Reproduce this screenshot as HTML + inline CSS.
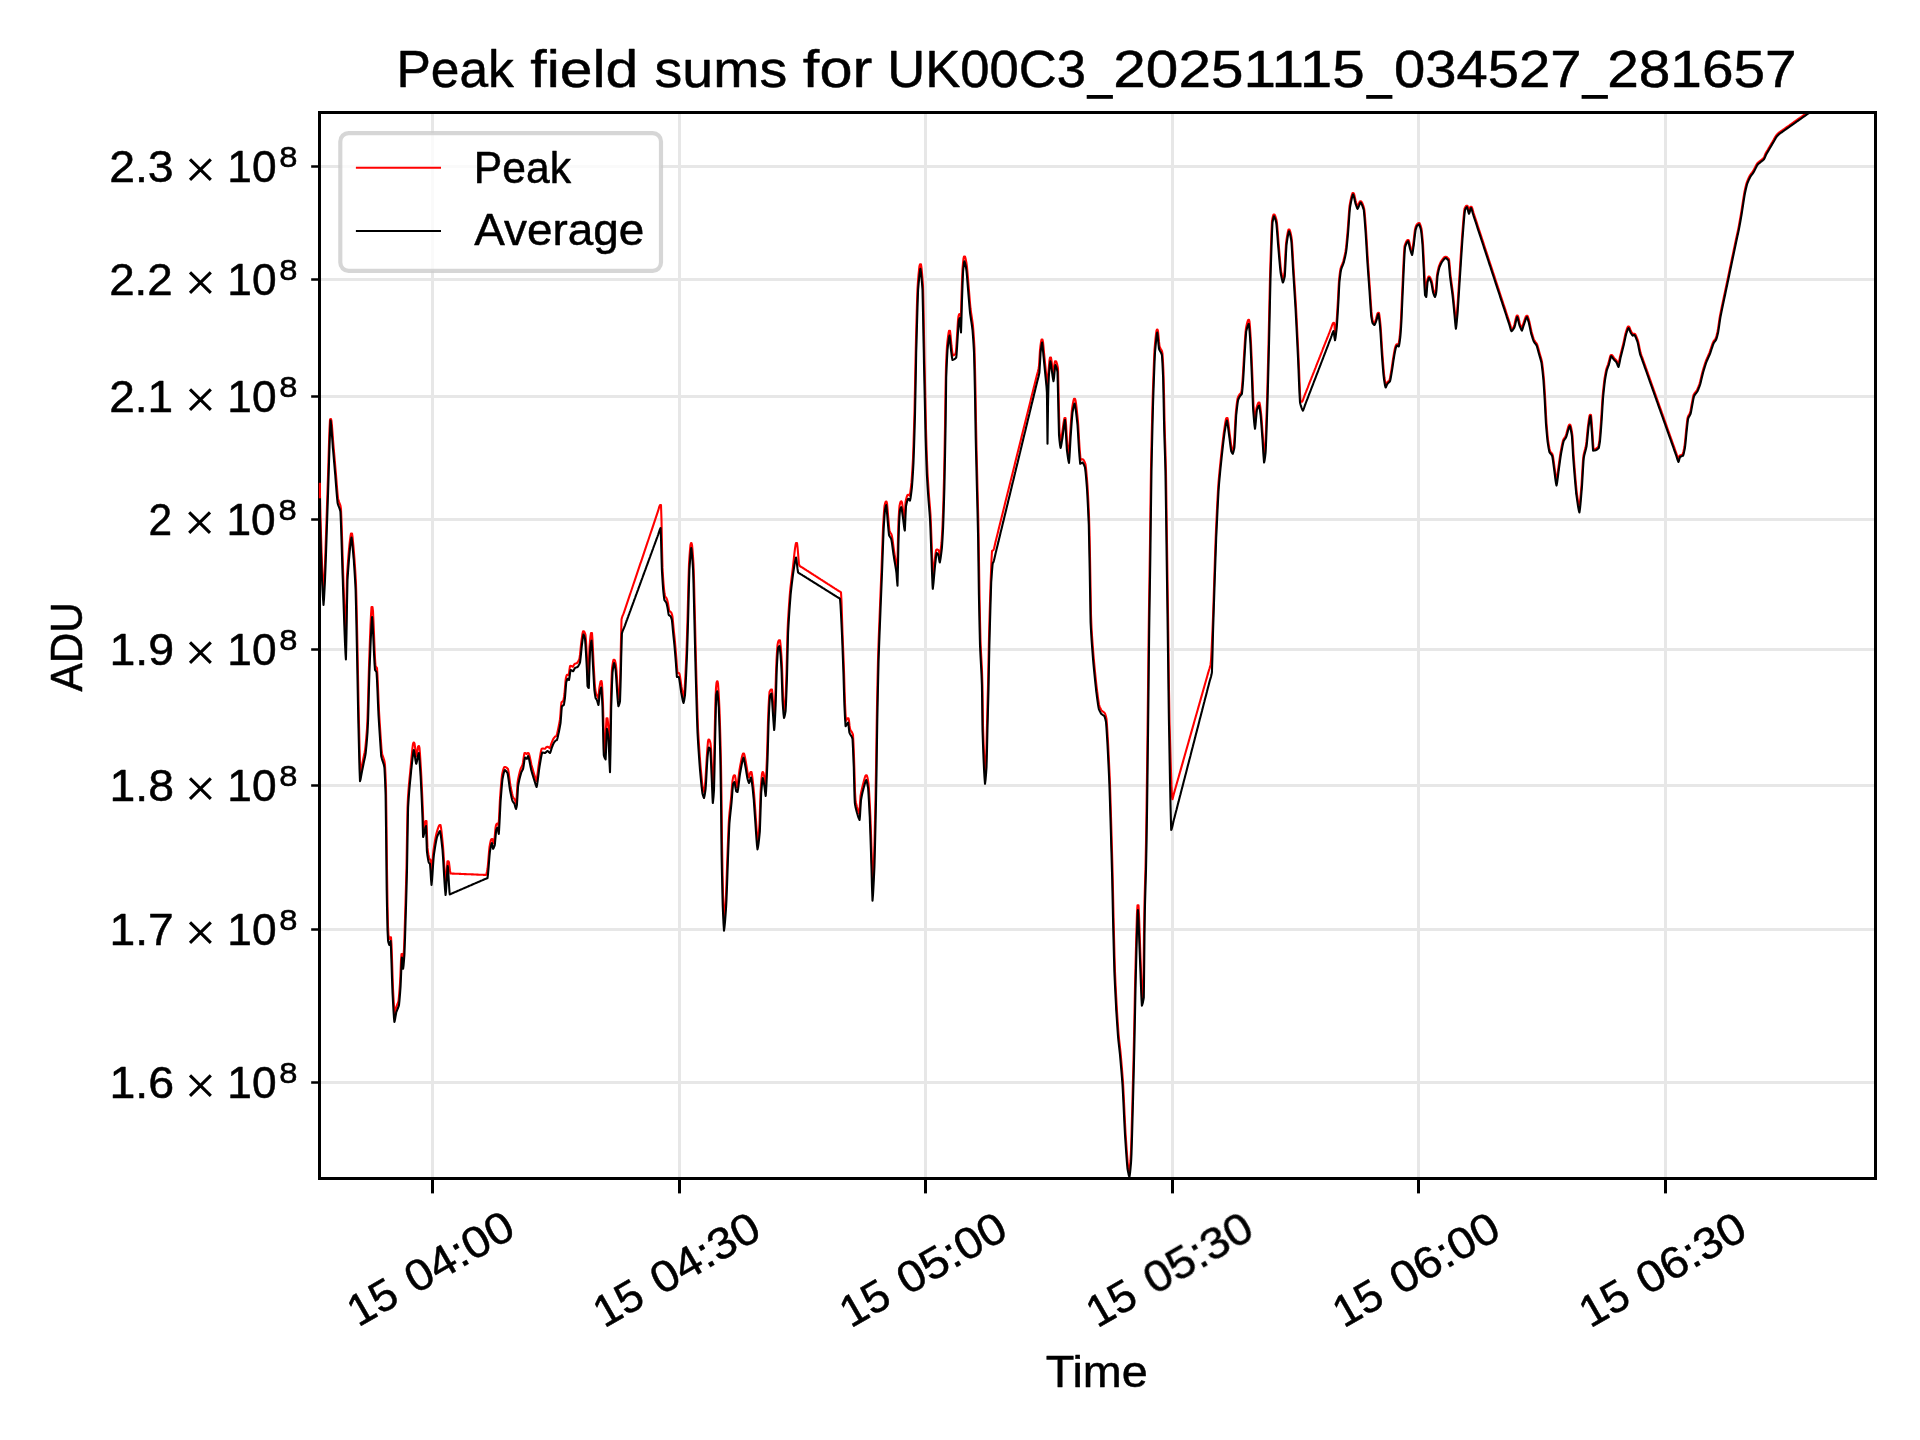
<!DOCTYPE html><html><head><meta charset="utf-8"><title>Peak field sums</title>
<style>html,body{margin:0;padding:0;background:#fff}svg{display:block}text{font-family:"Liberation Sans",sans-serif;font-size:100px;fill:#000;vector-effect:non-scaling-stroke}</style></head><body>
<svg width="1920" height="1440" viewBox="0 0 1920 1440">
<rect width="1920" height="1440" fill="#fff"/>
<defs><clipPath id="ax"><rect x="319.5" y="112.5" width="1556.0" height="1066.0"/></clipPath><filter id="gs" x="0" y="0" width="1920" height="1440" filterUnits="userSpaceOnUse" color-interpolation-filters="sRGB"><feColorMatrix type="saturate" values="0"/></filter></defs>
<g clip-path="url(#ax)" stroke="#e7e7e7" stroke-width="3" fill="none">
<line x1="432.50" y1="112.5" x2="432.50" y2="1178.5"/>
<line x1="679.50" y1="112.5" x2="679.50" y2="1178.5"/>
<line x1="925.50" y1="112.5" x2="925.50" y2="1178.5"/>
<line x1="1172.50" y1="112.5" x2="1172.50" y2="1178.5"/>
<line x1="1418.50" y1="112.5" x2="1418.50" y2="1178.5"/>
<line x1="1665.50" y1="112.5" x2="1665.50" y2="1178.5"/>
<line x1="319.5" y1="166.50" x2="1875.5" y2="166.50"/>
<line x1="319.5" y1="279.50" x2="1875.5" y2="279.50"/>
<line x1="319.5" y1="396.50" x2="1875.5" y2="396.50"/>
<line x1="319.5" y1="519.50" x2="1875.5" y2="519.50"/>
<line x1="319.5" y1="649.50" x2="1875.5" y2="649.50"/>
<line x1="319.5" y1="785.50" x2="1875.5" y2="785.50"/>
<line x1="319.5" y1="929.50" x2="1875.5" y2="929.50"/>
<line x1="319.5" y1="1082.50" x2="1875.5" y2="1082.50"/>
</g>
<g clip-path="url(#ax)" fill="none" stroke-width="2.08" stroke-linejoin="round" stroke-linecap="butt">
<path d="M319.5,496.0L320.0,496.0L320.5,516.5L321.0,534.6L321.5,550.5L322.0,564.3L322.5,576.1L323.0,586.1L323.5,594.3L324.0,585.8L324.5,576.0L325.0,563.3L325.5,549.6L326.0,535.1L326.5,520.3L327.0,505.4L327.5,491.0L328.0,475.8L328.5,459.3L329.0,443.3L329.5,429.4L330.0,419.5L330.5,419.0L331.0,419.0L331.5,421.0L332.0,426.3L332.5,432.9L333.0,439.6L333.5,445.8L334.0,451.6L334.5,457.4L335.0,463.2L335.5,469.0L336.0,474.8L336.5,481.1L337.0,487.4L337.5,493.3L338.0,498.2L338.5,500.4L339.0,501.9L339.5,503.1L340.0,504.4L340.5,505.9L341.0,509.2L341.5,520.8L342.0,535.8L342.5,552.4L343.0,568.6L343.5,582.8L344.0,597.3L344.5,612.1L345.0,626.5L345.5,639.3L346.0,629.7L346.5,599.8L347.0,576.0L347.5,568.5L348.0,561.6L348.5,555.2L349.0,549.4L349.5,544.3L350.0,539.9L350.5,536.3L351.0,533.5L351.5,533.5L352.0,533.5L352.5,536.7L353.0,541.5L353.5,547.1L354.0,553.1L354.5,559.5L355.0,566.8L355.5,574.8L356.0,584.0L356.5,601.4L357.0,624.5L357.5,648.5L358.0,674.9L358.5,701.3L359.0,724.2L359.5,745.5L360.0,764.6L360.5,772.9L361.0,770.0L361.5,767.4L362.0,765.0L362.5,762.5L363.0,760.1L363.5,757.6L364.0,755.3L364.5,753.0L365.0,750.3L365.5,746.0L366.0,740.8L366.5,734.9L367.0,728.5L367.5,718.3L368.0,702.2L368.5,682.8L369.0,665.8L369.5,652.1L370.0,638.4L370.5,625.7L371.0,614.9L371.5,607.1L372.0,607.1L372.5,607.1L373.0,611.4L373.5,621.7L374.0,634.2L374.5,647.1L375.0,658.3L375.5,666.0L376.0,666.7L376.5,667.3L377.0,668.0L377.5,676.0L378.0,687.4L378.5,699.8L379.0,711.0L379.5,719.2L380.0,727.0L380.5,734.5L381.0,741.9L381.5,749.1L382.0,753.2L382.5,755.1L383.0,756.7L383.5,758.1L384.0,759.6L384.5,761.5L385.0,765.0L385.5,774.8L386.0,788.0L386.5,822.3L387.0,869.7L387.5,902.7L388.0,926.0L388.5,935.7L389.0,938.7L389.5,939.0L390.0,937.2L390.5,937.2L391.0,937.2L391.5,944.4L392.0,958.6L392.5,974.6L393.0,988.5L393.5,997.7L394.0,1006.7L394.5,1014.1L395.0,1012.6L395.5,1009.7L396.0,1007.7L396.5,1006.4L397.0,1005.2L397.5,1004.0L398.0,1002.7L398.5,1001.0L399.0,996.2L399.5,990.2L400.0,983.4L400.5,972.9L401.0,960.3L401.5,954.0L402.0,954.0L402.5,954.0L403.0,959.1L403.5,956.2L404.0,948.7L404.5,935.0L405.0,919.0L405.5,902.6L406.0,885.1L406.5,866.0L407.0,836.2L407.5,807.7L408.0,797.0L408.5,790.1L409.0,784.2L409.5,778.9L410.0,773.8L410.5,768.7L411.0,763.4L411.5,757.9L412.0,752.5L412.5,747.6L413.0,743.8L413.5,742.5L414.0,742.5L414.5,743.5L415.0,746.9L415.5,751.1L416.0,755.4L416.5,756.3L417.0,752.9L417.5,749.5L418.0,746.8L418.5,746.0L419.0,746.0L419.5,748.0L420.0,754.2L420.5,762.1L421.0,770.4L421.5,779.9L422.0,790.4L422.5,801.5L423.0,813.5L423.5,829.8L424.0,827.3L424.5,824.7L425.0,822.5L425.5,821.1L426.0,821.1L426.5,821.1L427.0,835.1L427.5,847.9L428.0,851.8L428.5,854.9L429.0,857.5L429.5,858.8L430.0,859.4L430.5,860.0L431.0,866.4L431.5,875.0L432.0,869.7L432.5,862.0L433.0,854.9L433.5,850.2L434.0,846.9L434.5,843.7L435.0,840.8L435.5,838.0L436.0,835.4L436.5,833.2L437.0,831.5L437.5,829.9L438.0,828.3L438.5,826.9L439.0,825.8L439.5,825.0L440.0,825.0L440.5,825.0L441.0,827.6L441.5,831.5L442.0,836.1L442.5,841.1L443.0,846.0L443.5,853.0L444.0,861.3L444.5,869.9L445.0,878.1L445.5,885.2L446.0,881.1L446.5,873.5L447.0,866.3L447.5,861.2L448.0,861.2L448.5,861.2L449.0,862.6L449.5,866.6L450.0,870.7L450.5,873.5L451.0,873.5L451.5,873.5L452.0,873.6L452.5,873.6L453.0,873.6L453.5,873.6L454.0,873.6L454.5,873.7L455.0,873.7L455.5,873.7L456.0,873.7L456.5,873.7L457.0,873.8L457.5,873.8L458.0,873.8L458.5,873.8L459.0,873.8L459.5,873.9L460.0,873.9L460.5,873.9L461.0,873.9L461.5,874.0L462.0,874.0L462.5,874.0L463.0,874.0L463.5,874.0L464.0,874.1L464.5,874.1L465.0,874.1L465.5,874.1L466.0,874.1L466.5,874.2L467.0,874.2L467.5,874.2L468.0,874.2L468.5,874.2L469.0,874.3L469.5,874.3L470.0,874.3L470.5,874.3L471.0,874.3L471.5,874.4L472.0,874.4L472.5,874.4L473.0,874.4L473.5,874.4L474.0,874.5L474.5,874.5L475.0,874.5L475.5,874.5L476.0,874.5L476.5,874.6L477.0,874.6L477.5,874.6L478.0,874.6L478.5,874.7L479.0,874.7L479.5,874.7L480.0,874.7L480.5,874.7L481.0,874.8L481.5,874.8L482.0,874.8L482.5,874.8L483.0,874.8L483.5,874.9L484.0,874.9L484.5,874.9L485.0,874.9L485.5,874.9L486.0,875.0L486.5,873.6L487.0,871.5L487.5,869.0L488.0,864.1L488.5,858.1L489.0,852.0L489.5,847.0L490.0,844.3L490.5,841.8L491.0,839.8L491.5,839.0L492.0,839.0L492.5,839.0L493.0,841.7L493.5,843.1L494.0,841.8L494.5,839.0L495.0,833.5L495.5,828.0L496.0,825.3L496.5,824.2L497.0,823.5L497.5,823.5L498.0,823.5L498.5,825.9L499.0,818.8L499.5,808.4L500.0,798.6L500.5,791.8L501.0,785.5L501.5,779.8L502.0,775.0L502.5,772.7L503.0,770.6L503.5,768.8L504.0,767.5L504.5,767.0L505.0,767.0L505.5,767.1L506.0,767.3L506.5,767.7L507.0,768.0L507.5,768.5L508.0,769.0L508.5,771.5L509.0,774.9L509.5,778.8L510.0,782.6L510.5,786.0L511.0,788.5L511.5,790.9L512.0,793.2L512.5,795.2L513.0,797.0L513.5,797.8L514.0,798.5L514.5,799.1L515.0,800.0L515.5,801.8L516.0,803.2L516.5,799.8L517.0,791.6L517.5,783.2L518.0,779.7L518.5,777.2L519.0,775.0L519.5,772.9L520.0,771.1L520.5,769.4L521.0,767.9L521.5,767.0L522.0,766.1L522.5,765.0L523.0,762.5L523.5,758.9L524.0,755.3L524.5,753.0L525.0,753.0L525.5,753.0L526.0,753.4L526.5,753.9L527.0,753.9L527.5,753.1L528.0,753.1L528.5,753.1L529.0,754.0L529.5,755.7L530.0,757.9L530.5,760.3L531.0,762.7L531.5,765.0L532.0,766.9L532.5,768.6L533.0,770.3L533.5,772.0L534.0,773.7L534.5,775.3L535.0,776.9L535.5,778.5L536.0,780.1L536.5,781.3L537.0,778.2L537.5,774.4L538.0,770.3L538.5,766.3L539.0,762.9L539.5,759.9L540.0,756.8L540.5,753.8L541.0,751.2L541.5,749.2L542.0,748.5L542.5,748.5L543.0,748.5L543.5,748.6L544.0,748.7L544.5,748.8L545.0,748.7L545.5,748.2L546.0,747.6L546.5,747.1L547.0,746.8L547.5,746.8L548.0,746.8L548.5,747.1L549.0,747.6L549.5,748.2L550.0,748.0L550.5,746.4L551.0,744.7L551.5,743.2L552.0,742.0L552.5,740.7L553.0,739.5L553.5,738.6L554.0,737.9L554.5,737.3L555.0,736.7L555.5,736.4L556.0,736.2L556.5,735.8L557.0,734.1L557.5,731.9L558.0,729.6L558.5,727.3L559.0,724.8L559.5,722.1L560.0,719.2L560.5,713.5L561.0,706.3L561.5,702.2L562.0,701.8L562.5,701.5L563.0,701.2L563.5,700.0L564.0,697.0L564.5,693.5L565.0,687.4L565.5,681.0L566.0,677.5L566.5,675.8L567.0,674.8L567.5,674.8L568.0,674.8L568.5,675.1L569.0,673.3L569.5,669.3L570.0,666.2L570.5,665.9L571.0,665.9L571.5,666.0L572.0,666.3L572.5,666.7L573.0,666.8L573.5,665.8L574.0,664.8L574.5,664.0L575.0,663.8L575.5,663.6L576.0,663.4L576.5,663.2L577.0,663.0L577.5,662.4L578.0,661.6L578.5,660.7L579.0,659.7L579.5,658.5L580.0,654.7L580.5,649.8L581.0,644.6L581.5,640.3L582.0,636.8L582.5,633.5L583.0,631.4L583.5,631.4L584.0,631.4L584.5,632.1L585.0,633.3L585.5,634.8L586.0,640.8L586.5,649.0L587.0,658.3L587.5,668.6L588.0,682.0L588.5,678.9L589.0,662.3L589.5,647.0L590.0,641.1L590.5,636.2L591.0,633.0L591.5,633.0L592.0,633.0L592.5,640.1L593.0,650.7L593.5,661.6L594.0,670.9L594.5,679.9L595.0,686.8L595.5,690.6L596.0,693.5L596.5,694.7L597.0,695.4L597.5,696.3L598.0,698.0L598.5,696.8L599.0,690.9L599.5,687.0L600.0,684.1L600.5,681.7L601.0,681.0L601.5,681.0L602.0,683.8L602.5,692.7L603.0,703.5L603.5,723.4L604.0,744.1L604.5,751.9L605.0,753.4L605.5,745.5L606.0,727.6L606.5,718.3L607.0,718.3L607.5,718.3L608.0,722.5L608.5,728.3L609.0,734.8L609.5,746.3L610.0,746.5L610.5,716.2L611.0,695.4L611.5,680.1L612.0,668.5L612.5,664.8L613.0,661.8L613.5,659.8L614.0,659.8L614.5,659.8L615.0,660.6L615.5,662.8L616.0,665.4L616.5,670.8L617.0,678.3L617.5,686.3L618.0,693.5L618.5,699.1L619.0,699.4L619.5,697.2L620.0,683.1L620.5,663.6L621.0,639.6L621.5,619.5L622.0,617.5L622.5,616.0L623.0,614.9L623.5,613.7L624.0,612.3L624.5,610.8L625.0,609.3L625.5,607.8L626.0,606.3L626.5,604.8L627.0,603.4L627.5,601.9L628.0,600.4L628.5,598.9L629.0,597.4L629.5,595.9L630.0,594.4L630.5,593.0L631.0,591.5L631.5,590.0L632.0,588.5L632.5,587.0L633.0,585.5L633.5,584.0L634.0,582.6L634.5,581.1L635.0,579.6L635.5,578.1L636.0,576.6L636.5,575.1L637.0,573.6L637.5,572.2L638.0,570.7L638.5,569.2L639.0,567.7L639.5,566.2L640.0,564.7L640.5,563.2L641.0,561.8L641.5,560.3L642.0,558.8L642.5,557.3L643.0,555.8L643.5,554.3L644.0,552.8L644.5,551.4L645.0,549.9L645.5,548.4L646.0,546.9L646.5,545.4L647.0,543.9L647.5,542.4L648.0,541.0L648.5,539.5L649.0,538.0L649.5,536.5L650.0,535.0L650.5,533.5L651.0,532.0L651.5,530.6L652.0,529.1L652.5,527.6L653.0,526.1L653.5,524.6L654.0,523.1L654.5,521.6L655.0,520.2L655.5,518.7L656.0,517.2L656.5,515.7L657.0,514.2L657.5,512.7L658.0,511.2L658.5,509.5L659.0,507.7L659.5,506.2L660.0,505.1L660.5,505.1L661.0,505.1L661.5,519.9L662.0,547.5L662.5,567.9L663.0,576.4L663.5,583.4L664.0,588.8L664.5,593.3L665.0,596.2L665.5,596.9L666.0,597.5L666.5,598.1L667.0,599.3L667.5,601.3L668.0,603.5L668.5,606.7L669.0,609.9L669.5,611.2L670.0,611.5L670.5,611.8L671.0,612.2L671.5,613.1L672.0,614.6L672.5,616.8L673.0,621.8L673.5,627.5L674.0,632.3L674.5,637.1L675.0,642.1L675.5,648.0L676.0,654.0L676.5,660.3L677.0,667.6L677.5,673.0L678.0,673.0L678.5,673.0L679.0,673.0L679.5,673.9L680.0,676.5L680.5,679.8L681.0,683.5L681.5,687.0L682.0,689.8L682.5,692.5L683.0,695.2L683.5,697.2L684.0,694.3L684.5,691.0L685.0,683.1L685.5,673.4L686.0,662.5L686.5,650.7L687.0,635.6L687.5,619.3L688.0,600.1L688.5,579.6L689.0,564.4L689.5,556.6L690.0,549.8L690.5,544.7L691.0,543.0L691.5,543.0L692.0,544.7L692.5,549.8L693.0,556.6L693.5,564.4L694.0,579.3L694.5,599.6L695.0,620.1L695.5,641.2L696.0,662.0L696.5,680.2L697.0,697.7L697.5,714.1L698.0,728.5L698.5,737.2L699.0,745.1L699.5,752.5L700.0,759.4L700.5,766.0L701.0,771.4L701.5,776.6L702.0,781.6L702.5,786.0L703.0,789.8L703.5,791.5L704.0,792.0L704.5,789.0L705.0,785.5L705.5,779.1L706.0,770.6L706.5,761.7L707.0,753.5L707.5,747.0L708.0,741.3L708.5,739.5L709.0,739.5L709.5,740.0L710.0,741.5L710.5,743.6L711.0,748.4L711.5,758.2L712.0,769.6L712.5,780.9L713.0,792.8L713.5,786.0L714.0,765.2L714.5,741.0L715.0,719.1L715.5,698.8L716.0,687.9L716.5,682.8L717.0,681.2L717.5,681.2L718.0,683.4L718.5,690.3L719.0,699.0L719.5,710.2L720.0,725.2L720.5,742.3L721.0,764.4L721.5,796.0L722.0,842.8L722.5,871.6L723.0,893.5L723.5,908.3L724.0,919.3L724.5,917.8L725.0,911.5L725.5,904.5L726.0,895.3L726.5,882.1L727.0,867.7L727.5,853.7L728.0,840.8L728.5,828.3L729.0,818.5L729.5,813.1L730.0,808.4L730.5,803.9L731.0,799.0L731.5,792.8L732.0,786.4L732.5,780.9L733.0,778.1L733.5,776.0L734.0,775.3L734.5,775.3L735.0,775.4L735.5,778.4L736.0,782.4L736.5,786.1L737.0,787.5L737.5,785.6L738.0,781.9L738.5,777.7L739.0,773.4L739.5,769.8L740.0,767.0L740.5,764.3L741.0,761.6L741.5,759.0L742.0,756.7L742.5,754.8L743.0,753.5L743.5,753.5L744.0,753.5L744.5,755.1L745.0,757.5L745.5,760.2L746.0,763.0L746.5,765.9L747.0,769.0L747.5,772.1L748.0,774.8L748.5,776.5L749.0,777.6L749.5,775.5L750.0,773.4L750.5,772.0L751.0,772.0L751.5,772.0L752.0,774.7L752.5,778.7L753.0,783.0L753.5,787.9L754.0,793.2L754.5,799.3L755.0,806.4L755.5,813.5L756.0,820.6L756.5,828.1L757.0,835.3L757.5,841.3L758.0,839.8L758.5,835.7L759.0,831.0L759.5,823.5L760.0,808.8L760.5,793.8L761.0,784.9L761.5,778.5L762.0,773.6L762.5,772.0L763.0,772.0L763.5,772.9L764.0,775.7L764.5,779.2L765.0,782.8L765.5,787.2L766.0,779.3L766.5,767.9L767.0,756.0L767.5,739.1L768.0,721.2L768.5,708.4L769.0,698.8L769.5,692.0L770.0,690.9L770.5,690.0L771.0,689.5L771.5,689.5L772.0,689.5L772.5,694.7L773.0,702.6L773.5,710.6L774.0,717.8L774.5,714.2L775.0,704.0L775.5,689.7L776.0,672.8L776.5,660.3L777.0,651.8L777.5,645.0L778.0,642.4L778.5,640.8L779.0,640.2L779.5,640.2L780.0,640.5L780.5,644.5L781.0,649.9L781.5,657.1L782.0,666.0L782.5,680.5L783.0,696.0L783.5,703.5L784.0,709.8L784.5,710.4L785.0,707.6L785.5,699.5L786.0,686.9L786.5,672.4L787.0,651.7L787.5,631.7L788.0,621.1L788.5,612.9L789.0,605.5L789.5,598.7L790.0,592.3L790.5,587.2L791.0,582.8L791.5,578.7L792.0,574.6L792.5,570.6L793.0,566.4L793.5,561.8L794.0,557.2L794.5,552.7L795.0,548.7L795.5,545.3L796.0,543.0L796.5,543.0L797.0,543.0L797.5,546.8L798.0,552.5L798.5,558.8L799.0,563.9L799.5,565.8L800.0,566.2L800.5,566.5L801.0,566.8L801.5,567.1L802.0,567.4L802.5,567.7L803.0,568.0L803.5,568.3L804.0,568.7L804.5,569.0L805.0,569.3L805.5,569.6L806.0,569.9L806.5,570.3L807.0,570.6L807.5,570.9L808.0,571.2L808.5,571.5L809.0,571.9L809.5,572.2L810.0,572.5L810.5,572.8L811.0,573.2L811.5,573.5L812.0,573.8L812.5,574.1L813.0,574.4L813.5,574.8L814.0,575.1L814.5,575.4L815.0,575.7L815.5,576.0L816.0,576.4L816.5,576.7L817.0,577.0L817.5,577.3L818.0,577.7L818.5,578.0L819.0,578.3L819.5,578.6L820.0,578.9L820.5,579.3L821.0,579.6L821.5,579.9L822.0,580.2L822.5,580.5L823.0,580.9L823.5,581.2L824.0,581.5L824.5,581.8L825.0,582.2L825.5,582.5L826.0,582.8L826.5,583.1L827.0,583.4L827.5,583.8L828.0,584.1L828.5,584.4L829.0,584.7L829.5,585.0L830.0,585.4L830.5,585.7L831.0,586.0L831.5,586.3L832.0,586.7L832.5,587.0L833.0,587.3L833.5,587.6L834.0,587.9L834.5,588.3L835.0,588.6L835.5,588.9L836.0,589.2L836.5,589.5L837.0,589.9L837.5,590.2L838.0,590.5L838.5,590.8L839.0,591.1L839.5,591.4L840.0,591.7L840.5,592.0L841.0,592.4L841.5,601.2L842.0,617.3L842.5,632.6L843.0,645.3L843.5,657.8L844.0,671.0L844.5,688.1L845.0,703.1L845.5,713.6L846.0,720.9L846.5,719.9L847.0,718.9L847.5,718.2L848.0,718.2L848.5,718.2L849.0,720.7L849.5,725.4L850.0,728.8L850.5,729.9L851.0,730.8L851.5,731.6L852.0,732.4L852.5,733.4L853.0,734.8L853.5,744.1L854.0,756.9L854.5,772.4L855.0,791.6L855.5,800.2L856.0,802.9L856.5,805.0L857.0,807.0L857.5,808.8L858.0,810.5L858.5,812.1L859.0,813.6L859.5,811.6L860.0,803.3L860.5,796.0L861.0,793.2L861.5,790.7L862.0,788.6L862.5,786.5L863.0,784.5L863.5,782.6L864.0,780.6L864.5,778.7L865.0,777.0L865.5,775.7L866.0,775.2L866.5,775.2L867.0,775.9L867.5,777.8L868.0,780.4L868.5,783.4L869.0,789.7L869.5,798.5L870.0,808.4L870.5,819.9L871.0,833.9L871.5,848.6L872.0,864.6L872.5,883.4L873.0,882.3L873.5,872.1L874.0,860.2L874.5,841.7L875.0,820.7L875.5,797.8L876.0,770.2L876.5,735.5L877.0,705.9L877.5,681.8L878.0,660.0L878.5,644.4L879.0,631.1L879.5,618.6L880.0,606.1L880.5,593.6L881.0,581.4L881.5,569.0L882.0,555.4L882.5,541.5L883.0,528.6L883.5,519.2L884.0,511.8L884.5,506.0L885.0,503.8L885.5,502.0L886.0,501.5L886.5,501.5L887.0,503.2L887.5,508.7L888.0,514.8L888.5,520.6L889.0,526.5L889.5,531.0L890.0,532.1L890.5,532.9L891.0,533.6L891.5,534.5L892.0,536.3L892.5,539.4L893.0,543.0L893.5,546.8L894.0,550.5L894.5,553.8L895.0,556.7L895.5,559.6L896.0,562.5L896.5,565.7L897.0,569.6L897.5,561.0L898.0,537.4L898.5,521.0L899.0,512.4L899.5,506.0L900.0,503.7L900.5,501.9L901.0,501.4L901.5,501.4L902.0,502.4L902.5,505.7L903.0,509.9L903.5,514.0L904.0,517.9L904.5,522.1L905.0,512.0L905.5,502.2L906.0,499.8L906.5,497.8L907.0,496.1L907.5,494.9L908.0,494.8L908.5,494.8L909.0,495.0L909.5,495.6L910.0,494.3L910.5,490.9L911.0,486.9L911.5,482.2L912.0,475.3L912.5,467.4L913.0,458.5L913.5,444.4L914.0,428.4L914.5,411.0L915.0,386.5L915.5,360.4L916.0,339.0L916.5,320.3L917.0,303.0L917.5,288.5L918.0,281.0L918.5,275.1L919.0,270.0L919.5,266.0L920.0,264.3L920.5,264.3L921.0,264.3L921.5,267.8L922.0,272.8L922.5,278.9L923.0,286.0L923.5,308.0L924.0,335.5L924.5,360.2L925.0,383.1L925.5,406.0L926.0,429.3L926.5,446.2L927.0,460.7L927.5,472.8L928.0,481.1L928.5,488.7L929.0,496.0L929.5,502.2L930.0,508.1L930.5,514.8L931.0,526.4L931.5,539.5L932.0,552.9L932.5,568.0L933.0,578.9L933.5,573.2L934.0,567.3L934.5,562.0L935.0,557.8L935.5,553.6L936.0,550.3L936.5,549.5L937.0,549.5L937.5,549.6L938.0,549.9L938.5,550.2L939.0,551.3L939.5,554.4L940.0,554.9L940.5,551.4L941.0,547.4L941.5,542.7L942.0,535.0L942.5,525.9L943.0,512.9L943.5,497.2L944.0,478.9L944.5,454.1L945.0,426.7L945.5,390.2L946.0,366.6L946.5,355.1L947.0,346.0L947.5,341.2L948.0,336.8L948.5,333.3L949.0,330.9L949.5,330.9L950.0,330.9L950.5,334.8L951.0,340.6L951.5,346.0L952.0,349.9L952.5,353.6L953.0,355.6L953.5,355.4L954.0,355.1L954.5,354.7L955.0,354.3L955.5,353.8L956.0,351.1L956.5,343.9L957.0,336.0L957.5,327.9L958.0,320.2L958.5,316.2L959.0,314.5L959.5,314.0L960.0,314.0L960.5,316.1L961.0,313.4L961.5,295.7L962.0,281.5L962.5,269.2L963.0,263.0L963.5,258.5L964.0,256.5L964.5,256.5L965.0,256.5L965.5,258.2L966.0,260.6L966.5,263.3L967.0,267.1L967.5,272.6L968.0,278.7L968.5,284.8L969.0,290.8L969.5,297.0L970.0,303.0L970.5,308.5L971.0,312.2L971.5,315.5L972.0,318.7L972.5,322.1L973.0,326.0L973.5,332.4L974.0,339.7L974.5,348.5L975.0,367.9L975.5,391.0L976.0,421.7L976.5,446.8L977.0,467.3L977.5,487.6L978.0,507.5L978.5,528.8L979.0,562.1L979.5,596.1L980.0,620.3L980.5,641.0L981.0,652.0L981.5,661.0L982.0,670.8L982.5,687.3L983.0,726.0L983.5,740.5L984.0,753.5L984.5,764.6L985.0,773.5L985.5,770.4L986.0,763.5L986.5,745.6L987.0,723.8L987.5,704.4L988.0,686.0L988.5,660.8L989.0,637.2L989.5,619.1L990.0,602.0L990.5,586.1L991.0,572.2L991.5,559.7L992.0,551.0L992.5,550.6L993.0,550.3L993.5,550.0L994.0,548.5L994.5,546.5L995.0,544.3L995.5,542.0L996.0,539.9L996.5,537.9L997.0,535.9L997.5,533.9L998.0,531.9L998.5,529.8L999.0,527.8L999.5,525.8L1000.0,523.8L1000.5,521.8L1001.0,519.8L1001.5,517.8L1002.0,515.7L1002.5,513.7L1003.0,511.7L1003.5,509.7L1004.0,507.7L1004.5,505.7L1005.0,503.6L1005.5,501.6L1006.0,499.6L1006.5,497.6L1007.0,495.6L1007.5,493.6L1008.0,491.6L1008.5,489.5L1009.0,487.5L1009.5,485.5L1010.0,483.5L1010.5,481.5L1011.0,479.5L1011.5,477.4L1012.0,475.4L1012.5,473.4L1013.0,471.4L1013.5,469.4L1014.0,467.4L1014.5,465.4L1015.0,463.3L1015.5,461.3L1016.0,459.3L1016.5,457.3L1017.0,455.3L1017.5,453.3L1018.0,451.2L1018.5,449.2L1019.0,447.2L1019.5,445.2L1020.0,443.2L1020.5,441.2L1021.0,439.2L1021.5,437.1L1022.0,435.1L1022.5,433.1L1023.0,431.1L1023.5,429.1L1024.0,427.1L1024.5,425.0L1025.0,423.0L1025.5,421.0L1026.0,419.0L1026.5,417.0L1027.0,415.0L1027.5,413.0L1028.0,410.9L1028.5,408.9L1029.0,406.9L1029.5,404.9L1030.0,402.9L1030.5,400.9L1031.0,398.8L1031.5,396.8L1032.0,394.8L1032.5,392.8L1033.0,390.8L1033.5,388.8L1034.0,386.8L1034.5,384.7L1035.0,382.7L1035.5,380.7L1036.0,378.7L1036.5,376.7L1037.0,374.8L1037.5,373.0L1038.0,371.2L1038.5,369.0L1039.0,365.8L1039.5,358.1L1040.0,350.1L1040.5,345.7L1041.0,342.2L1041.5,339.6L1042.0,339.6L1042.5,339.6L1043.0,341.9L1043.5,346.9L1044.0,352.6L1044.5,357.7L1045.0,362.7L1045.5,367.7L1046.0,372.9L1046.5,379.0L1047.0,385.4L1047.5,381.0L1048.0,376.2L1048.5,371.4L1049.0,365.5L1049.5,360.1L1050.0,357.6L1050.5,357.6L1051.0,357.6L1051.5,360.6L1052.0,364.7L1052.5,368.4L1053.0,372.0L1053.5,374.2L1054.0,368.8L1054.5,363.6L1055.0,361.2L1055.5,361.2L1056.0,361.2L1056.5,362.3L1057.0,363.8L1057.5,365.9L1058.0,368.5L1058.5,389.2L1059.0,412.0L1059.5,431.6L1060.0,436.9L1060.5,441.2L1061.0,440.4L1061.5,437.2L1062.0,434.1L1062.5,430.7L1063.0,426.9L1063.5,423.2L1064.0,420.1L1064.5,418.0L1065.0,418.0L1065.5,418.0L1066.0,423.6L1066.5,432.1L1067.0,440.9L1067.5,447.4L1068.0,451.2L1068.5,454.7L1069.0,453.7L1069.5,444.8L1070.0,435.7L1070.5,428.5L1071.0,421.4L1071.5,414.8L1072.0,409.2L1072.5,406.0L1073.0,403.0L1073.5,400.5L1074.0,398.7L1074.5,398.7L1075.0,398.7L1075.5,400.3L1076.0,403.5L1076.5,407.4L1077.0,412.0L1077.5,416.8L1078.0,421.7L1078.5,429.6L1079.0,438.5L1079.5,446.7L1080.0,453.2L1080.5,458.8L1081.0,459.8L1081.5,459.5L1082.0,459.3L1082.5,459.3L1083.0,459.3L1083.5,459.9L1084.0,460.7L1084.5,461.7L1085.0,462.9L1085.5,464.3L1086.0,468.3L1086.5,473.5L1087.0,479.4L1087.5,486.0L1088.0,494.8L1088.5,504.6L1089.0,515.7L1089.5,532.2L1090.0,556.7L1090.5,585.1L1091.0,614.9L1091.5,627.2L1092.0,635.5L1092.5,642.6L1093.0,649.1L1093.5,655.5L1094.0,661.2L1094.5,666.5L1095.0,671.6L1095.5,676.5L1096.0,681.3L1096.5,685.9L1097.0,690.1L1097.5,694.0L1098.0,697.8L1098.5,701.3L1099.0,704.4L1099.5,706.3L1100.0,707.5L1100.5,708.5L1101.0,709.5L1101.5,710.3L1102.0,710.9L1102.5,711.3L1103.0,711.7L1103.5,712.0L1104.0,712.4L1104.5,712.8L1105.0,713.5L1105.5,714.9L1106.0,716.8L1106.5,719.0L1107.0,725.4L1107.5,733.5L1108.0,742.0L1108.5,751.8L1109.0,762.0L1109.5,772.9L1110.0,784.9L1110.5,800.3L1111.0,816.7L1111.5,833.6L1112.0,851.0L1112.5,869.3L1113.0,891.0L1113.5,915.0L1114.0,935.9L1114.5,955.6L1115.0,971.9L1115.5,983.0L1116.0,993.0L1116.5,1002.4L1117.0,1011.1L1117.5,1018.9L1118.0,1026.4L1118.5,1033.3L1119.0,1038.5L1119.5,1043.1L1120.0,1047.5L1120.5,1052.1L1121.0,1057.7L1121.5,1063.4L1122.0,1069.3L1122.5,1075.5L1123.0,1082.1L1123.5,1091.4L1124.0,1101.7L1124.5,1112.3L1125.0,1122.6L1125.5,1132.2L1126.0,1139.7L1126.5,1147.1L1127.0,1154.2L1127.5,1160.5L1128.0,1165.9L1128.5,1168.7L1129.0,1171.1L1129.5,1170.5L1130.0,1165.8L1130.5,1160.2L1131.0,1150.8L1131.5,1135.0L1132.0,1116.9L1132.5,1098.3L1133.0,1079.2L1133.5,1059.0L1134.0,1037.5L1134.5,1012.2L1135.0,987.0L1135.5,966.1L1136.0,946.8L1136.5,929.1L1137.0,912.9L1137.5,905.3L1138.0,905.3L1138.5,905.3L1139.0,915.0L1139.5,928.5L1140.0,943.5L1140.5,957.3L1141.0,970.7L1141.5,984.7L1142.0,996.6L1142.5,999.2L1143.0,996.5L1143.5,979.1L1144.0,932.5L1144.5,901.9L1145.0,884.4L1145.5,867.3L1146.0,843.0L1146.5,810.8L1147.0,774.3L1147.5,733.9L1148.0,690.3L1148.5,644.4L1149.0,607.5L1149.5,576.6L1150.0,542.6L1150.5,503.4L1151.0,467.4L1151.5,444.1L1152.0,423.0L1152.5,403.6L1153.0,388.1L1153.5,373.8L1154.0,360.9L1154.5,349.9L1155.0,344.2L1155.5,338.8L1156.0,334.2L1156.5,330.7L1157.0,329.5L1157.5,329.5L1158.0,331.0L1158.5,336.0L1159.0,341.7L1159.5,346.2L1160.0,347.5L1160.5,348.5L1161.0,349.3L1161.5,350.2L1162.0,351.3L1162.5,353.7L1163.0,361.9L1163.5,372.7L1164.0,392.7L1164.5,418.3L1165.0,437.7L1165.5,453.4L1166.0,473.3L1166.5,506.7L1167.0,543.3L1167.5,578.4L1168.0,613.4L1168.5,650.8L1169.0,690.5L1169.5,721.3L1170.0,739.4L1170.5,756.5L1171.0,772.1L1171.5,785.5L1172.0,796.3L1172.5,799.3L1173.0,797.2L1173.5,795.2L1174.0,793.3L1174.5,791.6L1175.0,789.8L1175.5,788.0L1176.0,786.3L1176.5,784.5L1177.0,782.8L1177.5,781.0L1178.0,779.2L1178.5,777.5L1179.0,775.7L1179.5,773.9L1180.0,772.2L1180.5,770.4L1181.0,768.6L1181.5,766.9L1182.0,765.1L1182.5,763.4L1183.0,761.6L1183.5,759.8L1184.0,758.1L1184.5,756.3L1185.0,754.5L1185.5,752.8L1186.0,751.0L1186.5,749.3L1187.0,747.5L1187.5,745.7L1188.0,744.0L1188.5,742.2L1189.0,740.4L1189.5,738.7L1190.0,736.9L1190.5,735.2L1191.0,733.4L1191.5,731.6L1192.0,729.9L1192.5,728.1L1193.0,726.3L1193.5,724.6L1194.0,722.8L1194.5,721.0L1195.0,719.3L1195.5,717.5L1196.0,715.8L1196.5,714.0L1197.0,712.2L1197.5,710.5L1198.0,708.7L1198.5,706.9L1199.0,705.2L1199.5,703.4L1200.0,701.7L1200.5,699.9L1201.0,698.1L1201.5,696.4L1202.0,694.6L1202.5,692.8L1203.0,691.1L1203.5,689.3L1204.0,687.6L1204.5,685.8L1205.0,684.0L1205.5,682.3L1206.0,680.5L1206.5,678.7L1207.0,677.0L1207.5,675.2L1208.0,673.4L1208.5,671.7L1209.0,670.1L1209.5,668.6L1210.0,666.9L1210.5,664.9L1211.0,660.3L1211.5,651.5L1212.0,641.1L1212.5,630.1L1213.0,617.2L1213.5,602.6L1214.0,587.3L1214.5,571.8L1215.0,556.6L1215.5,542.3L1216.0,530.0L1216.5,519.3L1217.0,508.8L1217.5,499.0L1218.0,489.8L1218.5,482.6L1219.0,476.9L1219.5,471.6L1220.0,466.6L1220.5,461.7L1221.0,456.9L1221.5,452.2L1222.0,447.7L1222.5,443.3L1223.0,439.1L1223.5,435.0L1224.0,431.2L1224.5,427.9L1225.0,424.5L1225.5,421.4L1226.0,419.0L1226.5,418.0L1227.0,418.0L1227.5,418.0L1228.0,420.5L1228.5,424.2L1229.0,428.3L1229.5,432.5L1230.0,436.4L1230.5,440.4L1231.0,444.5L1231.5,448.0L1232.0,450.0L1232.5,450.9L1233.0,449.8L1233.5,447.7L1234.0,444.5L1234.5,436.4L1235.0,426.6L1235.5,417.1L1236.0,410.8L1236.5,406.2L1237.0,402.1L1237.5,398.8L1238.0,397.3L1238.5,396.2L1239.0,395.3L1239.5,394.5L1240.0,393.9L1240.5,393.3L1241.0,392.7L1241.5,391.3L1242.0,386.6L1242.5,380.7L1243.0,373.0L1243.5,364.0L1244.0,355.5L1244.5,347.3L1245.0,339.3L1245.5,332.4L1246.0,328.2L1246.5,325.8L1247.0,323.6L1247.5,321.7L1248.0,320.3L1248.5,319.8L1249.0,319.8L1249.5,321.6L1250.0,327.4L1250.5,334.7L1251.0,343.3L1251.5,354.4L1252.0,366.3L1252.5,378.4L1253.0,392.2L1253.5,405.0L1254.0,412.4L1254.5,418.6L1255.0,423.4L1255.5,417.7L1256.0,411.9L1256.5,408.0L1257.0,406.3L1257.5,404.7L1258.0,403.5L1258.5,402.6L1259.0,402.6L1259.5,402.6L1260.0,405.0L1260.5,408.6L1261.0,412.6L1261.5,418.1L1262.0,424.6L1262.5,431.6L1263.0,438.4L1263.5,446.3L1264.0,454.3L1264.5,455.9L1265.0,451.8L1265.5,442.8L1266.0,430.1L1266.5,415.8L1267.0,401.0L1267.5,382.8L1268.0,363.4L1268.5,343.5L1269.0,321.4L1269.5,298.8L1270.0,277.4L1270.5,260.8L1271.0,245.3L1271.5,231.5L1272.0,221.0L1272.5,218.2L1273.0,215.9L1273.5,214.5L1274.0,214.5L1274.5,214.5L1275.0,215.4L1275.5,216.7L1276.0,218.3L1276.5,220.1L1277.0,223.4L1277.5,229.2L1278.0,235.8L1278.5,242.4L1279.0,248.2L1279.5,254.2L1280.0,260.0L1280.5,265.5L1281.0,270.3L1281.5,273.3L1282.0,275.9L1282.5,278.2L1283.0,279.8L1283.5,278.1L1284.0,276.0L1284.5,271.5L1285.0,262.2L1285.5,252.0L1286.0,243.7L1286.5,240.0L1287.0,236.6L1287.5,233.6L1288.0,231.2L1288.5,229.5L1289.0,229.5L1289.5,229.5L1290.0,230.8L1290.5,232.6L1291.0,234.8L1291.5,237.4L1292.0,241.8L1292.5,249.5L1293.0,258.3L1293.5,267.1L1294.0,275.1L1294.5,283.0L1295.0,290.8L1295.5,298.8L1296.0,307.1L1296.5,316.4L1297.0,326.2L1297.5,336.2L1298.0,346.4L1298.5,356.7L1299.0,368.4L1299.5,381.4L1300.0,393.3L1300.5,401.3L1301.0,401.5L1301.5,401.7L1302.0,401.8L1302.5,401.2L1303.0,399.9L1303.5,398.5L1304.0,397.0L1304.5,395.7L1305.0,394.4L1305.5,393.1L1306.0,391.9L1306.5,390.6L1307.0,389.3L1307.5,388.1L1308.0,386.8L1308.5,385.5L1309.0,384.2L1309.5,383.0L1310.0,381.7L1310.5,380.4L1311.0,379.2L1311.5,377.9L1312.0,376.6L1312.5,375.4L1313.0,374.1L1313.5,372.8L1314.0,371.6L1314.5,370.3L1315.0,369.0L1315.5,367.8L1316.0,366.5L1316.5,365.2L1317.0,364.0L1317.5,362.7L1318.0,361.4L1318.5,360.2L1319.0,358.9L1319.5,357.6L1320.0,356.4L1320.5,355.1L1321.0,353.8L1321.5,352.5L1322.0,351.3L1322.5,350.0L1323.0,348.7L1323.5,347.5L1324.0,346.2L1324.5,344.9L1325.0,343.7L1325.5,342.4L1326.0,341.1L1326.5,339.9L1327.0,338.6L1327.5,337.3L1328.0,336.1L1328.5,334.8L1329.0,333.5L1329.5,332.3L1330.0,331.0L1330.5,329.7L1331.0,328.4L1331.5,327.0L1332.0,325.5L1332.5,324.2L1333.0,323.1L1333.5,322.8L1334.0,322.8L1334.5,325.2L1335.0,333.0L1335.5,332.9L1336.0,328.6L1336.5,322.9L1337.0,315.5L1337.5,307.4L1338.0,298.9L1338.5,288.6L1339.0,280.3L1339.5,275.9L1340.0,272.0L1340.5,268.8L1341.0,267.2L1341.5,265.8L1342.0,264.6L1342.5,263.4L1343.0,262.0L1343.5,260.3L1344.0,258.3L1344.5,256.2L1345.0,253.9L1345.5,251.4L1346.0,247.9L1346.5,243.1L1347.0,237.9L1347.5,232.4L1348.0,226.0L1348.5,218.9L1349.0,212.0L1349.5,206.3L1350.0,203.5L1350.5,200.8L1351.0,198.4L1351.5,196.2L1352.0,194.5L1352.5,193.1L1353.0,193.1L1353.5,193.1L1354.0,193.9L1354.5,195.7L1355.0,197.9L1355.5,200.2L1356.0,202.2L1356.5,203.8L1357.0,205.3L1357.5,206.7L1358.0,205.8L1358.5,204.5L1359.0,203.2L1359.5,202.1L1360.0,201.3L1360.5,201.3L1361.0,201.3L1361.5,201.7L1362.0,202.5L1362.5,203.6L1363.0,204.9L1363.5,206.3L1364.0,208.0L1364.5,211.0L1365.0,216.6L1365.5,223.2L1366.0,230.0L1366.5,237.6L1367.0,245.9L1367.5,254.4L1368.0,262.6L1368.5,269.6L1369.0,276.5L1369.5,283.3L1370.0,290.2L1370.5,297.7L1371.0,305.2L1371.5,311.9L1372.0,316.5L1372.5,319.5L1373.0,321.8L1373.5,322.5L1374.0,323.1L1374.5,322.9L1375.0,321.7L1375.5,320.4L1376.0,319.0L1376.5,317.1L1377.0,315.1L1377.5,313.4L1378.0,312.8L1378.5,312.8L1379.0,313.0L1379.5,316.0L1380.0,320.2L1380.5,324.8L1381.0,331.8L1381.5,339.7L1382.0,347.7L1382.5,355.1L1383.0,361.6L1383.5,368.0L1384.0,373.8L1384.5,378.0L1385.0,381.2L1385.5,384.0L1386.0,384.7L1386.5,383.5L1387.0,382.6L1387.5,382.0L1388.0,381.6L1388.5,381.1L1389.0,380.7L1389.5,380.1L1390.0,378.0L1390.5,375.3L1391.0,372.4L1391.5,369.4L1392.0,366.1L1392.5,362.6L1393.0,359.2L1393.5,356.1L1394.0,353.2L1394.5,350.4L1395.0,348.0L1395.5,346.3L1396.0,345.0L1396.5,344.3L1397.0,344.3L1397.5,344.3L1398.0,344.6L1398.5,344.6L1399.0,341.8L1399.5,338.1L1400.0,333.6L1400.5,327.3L1401.0,318.7L1401.5,307.3L1402.0,295.8L1402.5,285.0L1403.0,273.7L1403.5,262.9L1404.0,253.4L1404.5,246.3L1405.0,244.6L1405.5,243.3L1406.0,242.1L1406.5,241.2L1407.0,240.5L1407.5,240.0L1408.0,240.0L1408.5,240.0L1409.0,241.0L1409.5,243.1L1410.0,245.4L1410.5,247.6L1411.0,249.3L1411.5,251.0L1412.0,252.2L1412.5,249.1L1413.0,245.5L1413.5,241.8L1414.0,237.5L1414.5,233.2L1415.0,229.4L1415.5,227.4L1416.0,226.0L1416.5,224.9L1417.0,224.3L1417.5,223.8L1418.0,223.4L1418.5,223.1L1419.0,223.1L1419.5,223.1L1420.0,224.0L1420.5,225.3L1421.0,227.0L1421.5,228.8L1422.0,232.9L1422.5,238.0L1423.0,243.8L1423.5,253.2L1424.0,263.7L1424.5,274.2L1425.0,285.5L1425.5,293.8L1426.0,293.8L1426.5,287.2L1427.0,281.3L1427.5,279.3L1428.0,277.7L1428.5,276.6L1429.0,276.6L1429.5,276.6L1430.0,277.3L1430.5,278.2L1431.0,279.4L1431.5,280.6L1432.0,282.4L1432.5,285.2L1433.0,288.2L1433.5,290.9L1434.0,292.5L1434.5,293.9L1435.0,294.5L1435.5,292.5L1436.0,288.6L1436.5,281.4L1437.0,275.1L1437.5,272.3L1438.0,269.9L1438.5,267.8L1439.0,266.0L1439.5,264.8L1440.0,263.6L1440.5,262.5L1441.0,261.5L1441.5,260.7L1442.0,260.0L1442.5,259.3L1443.0,258.7L1443.5,258.1L1444.0,257.6L1444.5,257.1L1445.0,256.8L1445.5,256.8L1446.0,256.8L1446.5,256.9L1447.0,257.2L1447.5,257.7L1448.0,258.1L1448.5,258.7L1449.0,259.4L1449.5,263.7L1450.0,269.5L1450.5,275.1L1451.0,279.0L1451.5,282.7L1452.0,286.3L1452.5,289.9L1453.0,293.8L1453.5,298.5L1454.0,303.5L1454.5,308.5L1455.0,313.6L1455.5,319.3L1456.0,323.3L1456.5,318.0L1457.0,312.6L1457.5,305.7L1458.0,298.3L1458.5,290.5L1459.0,282.7L1459.5,275.1L1460.0,267.5L1460.5,259.8L1461.0,252.2L1461.5,244.7L1462.0,237.6L1462.5,231.2L1463.0,224.6L1463.5,218.4L1464.0,213.0L1464.5,208.8L1465.0,207.7L1465.5,206.8L1466.0,206.0L1466.5,205.8L1467.0,205.8L1467.5,205.8L1468.0,207.3L1468.5,209.3L1469.0,211.3L1469.5,209.6L1470.0,207.8L1470.5,206.7L1471.0,206.7L1471.5,206.7L1472.0,207.7L1472.5,209.2L1473.0,210.9L1473.5,212.7L1474.0,214.3L1474.5,215.8L1475.0,217.3L1475.5,218.9L1476.0,220.4L1476.5,221.9L1477.0,223.4L1477.5,225.0L1478.0,226.5L1478.5,228.0L1479.0,229.5L1479.5,231.0L1480.0,232.6L1480.5,234.1L1481.0,235.6L1481.5,237.1L1482.0,238.7L1482.5,240.2L1483.0,241.7L1483.5,243.2L1484.0,244.8L1484.5,246.3L1485.0,247.8L1485.5,249.3L1486.0,250.8L1486.5,252.4L1487.0,253.9L1487.5,255.4L1488.0,256.9L1488.5,258.5L1489.0,260.0L1489.5,261.5L1490.0,263.0L1490.5,264.6L1491.0,266.1L1491.5,267.6L1492.0,269.1L1492.5,270.6L1493.0,272.2L1493.5,273.7L1494.0,275.2L1494.5,276.7L1495.0,278.3L1495.5,279.8L1496.0,281.3L1496.5,282.8L1497.0,284.4L1497.5,285.9L1498.0,287.4L1498.5,288.9L1499.0,290.4L1499.5,292.0L1500.0,293.5L1500.5,295.0L1501.0,296.5L1501.5,298.1L1502.0,299.6L1502.5,301.1L1503.0,302.6L1503.5,304.2L1504.0,305.7L1504.5,307.2L1505.0,308.7L1505.5,310.2L1506.0,311.8L1506.5,313.3L1507.0,314.8L1507.5,316.3L1508.0,317.9L1508.5,319.4L1509.0,320.9L1509.5,322.4L1510.0,324.0L1510.5,325.8L1511.0,327.6L1511.5,329.0L1512.0,329.1L1512.5,328.5L1513.0,327.8L1513.5,327.0L1514.0,326.0L1514.5,324.2L1515.0,322.0L1515.5,319.8L1516.0,317.7L1516.5,316.1L1517.0,315.5L1517.5,315.5L1518.0,316.1L1518.5,317.8L1519.0,320.0L1519.5,322.3L1520.0,324.1L1520.5,325.4L1521.0,326.7L1521.5,327.9L1522.0,328.0L1522.5,326.3L1523.0,324.6L1523.5,323.1L1524.0,321.6L1524.5,320.1L1525.0,318.6L1525.5,317.3L1526.0,316.2L1526.5,315.8L1527.0,315.8L1527.5,315.8L1528.0,317.0L1528.5,318.6L1529.0,320.4L1529.5,322.3L1530.0,324.6L1530.5,326.9L1531.0,329.3L1531.5,331.5L1532.0,333.4L1532.5,335.1L1533.0,336.7L1533.5,338.3L1534.0,339.7L1534.5,340.7L1535.0,341.4L1535.5,342.1L1536.0,342.7L1536.5,343.4L1537.0,344.1L1537.5,345.5L1538.0,347.2L1538.5,349.1L1539.0,351.0L1539.5,352.8L1540.0,354.5L1540.5,356.2L1541.0,357.9L1541.5,359.7L1542.0,361.8L1542.5,365.6L1543.0,369.9L1543.5,374.7L1544.0,380.1L1544.5,387.5L1545.0,395.5L1545.5,404.5L1546.0,414.5L1546.5,423.1L1547.0,429.2L1547.5,434.8L1548.0,439.8L1548.5,443.2L1549.0,446.3L1549.5,449.0L1550.0,451.0L1550.5,451.8L1551.0,452.4L1551.5,453.0L1552.0,453.6L1552.5,454.4L1553.0,456.3L1553.5,459.6L1554.0,463.4L1554.5,467.1L1555.0,470.8L1555.5,474.8L1556.0,478.8L1556.5,482.1L1557.0,478.7L1557.5,474.7L1558.0,470.6L1558.5,467.0L1559.0,463.4L1559.5,459.7L1560.0,456.1L1560.5,452.8L1561.0,450.1L1561.5,447.5L1562.0,444.9L1562.5,442.6L1563.0,440.5L1563.5,439.3L1564.0,438.5L1564.5,437.8L1565.0,437.1L1565.5,436.3L1566.0,434.9L1566.5,433.2L1567.0,431.3L1567.5,429.5L1568.0,427.7L1568.5,426.2L1569.0,425.0L1569.5,424.6L1570.0,424.6L1570.5,425.2L1571.0,427.0L1571.5,429.4L1572.0,432.3L1572.5,436.1L1573.0,444.3L1573.5,453.2L1574.0,460.1L1574.5,466.6L1575.0,472.9L1575.5,479.0L1576.0,484.7L1576.5,490.0L1577.0,494.3L1577.5,497.9L1578.0,501.5L1578.5,504.8L1579.0,507.6L1579.5,507.4L1580.0,502.6L1580.5,496.9L1581.0,491.0L1581.5,484.9L1582.0,476.6L1582.5,467.8L1583.0,459.9L1583.5,455.5L1584.0,453.2L1584.5,451.3L1585.0,449.5L1585.5,447.6L1586.0,445.3L1586.5,441.2L1587.0,436.0L1587.5,430.6L1588.0,425.8L1588.5,422.2L1589.0,418.7L1589.5,415.8L1590.0,414.8L1590.5,414.8L1591.0,414.9L1591.5,419.8L1592.0,426.5L1592.5,433.3L1593.0,441.7L1593.5,448.6L1594.0,449.3L1594.5,449.2L1595.0,449.1L1595.5,448.9L1596.0,448.6L1596.5,448.3L1597.0,448.0L1597.5,447.6L1598.0,447.1L1598.5,445.8L1599.0,443.1L1599.5,439.8L1600.0,434.3L1600.5,427.9L1601.0,421.3L1601.5,413.5L1602.0,405.3L1602.5,397.7L1603.0,392.2L1603.5,387.4L1604.0,382.9L1604.5,378.8L1605.0,375.9L1605.5,373.1L1606.0,370.6L1606.5,368.5L1607.0,367.1L1607.5,365.8L1608.0,364.5L1608.5,362.9L1609.0,360.9L1609.5,358.9L1610.0,356.9L1610.5,355.5L1611.0,355.0L1611.5,355.0L1612.0,355.1L1612.5,355.7L1613.0,356.4L1613.5,357.1L1614.0,357.9L1614.5,358.5L1615.0,359.0L1615.5,359.5L1616.0,360.0L1616.5,360.5L1617.0,361.3L1617.5,362.5L1618.0,363.8L1618.5,364.2L1619.0,361.9L1619.5,359.3L1620.0,356.7L1620.5,354.7L1621.0,352.7L1621.5,350.7L1622.0,348.8L1622.5,346.8L1623.0,344.8L1623.5,342.7L1624.0,340.4L1624.5,338.0L1625.0,335.7L1625.5,333.5L1626.0,331.8L1626.5,330.2L1627.0,328.7L1627.5,327.5L1628.0,326.6L1628.5,326.6L1629.0,326.6L1629.5,327.4L1630.0,328.6L1630.5,329.9L1631.0,331.1L1631.5,332.0L1632.0,332.8L1632.5,333.6L1633.0,334.1L1633.5,333.9L1634.0,333.8L1634.5,333.8L1635.0,333.9L1635.5,334.6L1636.0,335.6L1636.5,336.8L1637.0,338.1L1637.5,339.4L1638.0,340.8L1638.5,342.9L1639.0,345.3L1639.5,347.9L1640.0,350.3L1640.5,352.6L1641.0,354.1L1641.5,355.5L1642.0,356.8L1642.5,358.2L1643.0,359.6L1643.5,361.0L1644.0,362.4L1644.5,363.8L1645.0,365.2L1645.5,366.6L1646.0,368.0L1646.5,369.4L1647.0,370.8L1647.5,372.2L1648.0,373.6L1648.5,375.0L1649.0,376.4L1649.5,377.9L1650.0,379.3L1650.5,380.7L1651.0,382.1L1651.5,383.5L1652.0,384.9L1652.5,386.3L1653.0,387.7L1653.5,389.1L1654.0,390.5L1654.5,391.9L1655.0,393.3L1655.5,394.7L1656.0,396.1L1656.5,397.5L1657.0,398.9L1657.5,400.3L1658.0,401.8L1658.5,403.2L1659.0,404.6L1659.5,406.0L1660.0,407.4L1660.5,408.8L1661.0,410.2L1661.5,411.6L1662.0,413.0L1662.5,414.4L1663.0,415.8L1663.5,417.2L1664.0,418.6L1664.5,420.0L1665.0,421.4L1665.5,422.8L1666.0,424.2L1666.5,425.7L1667.0,427.1L1667.5,428.5L1668.0,429.9L1668.5,431.3L1669.0,432.7L1669.5,434.1L1670.0,435.5L1670.5,436.9L1671.0,438.3L1671.5,439.7L1672.0,441.1L1672.5,442.5L1673.0,443.9L1673.5,445.3L1674.0,446.7L1674.5,448.1L1675.0,449.6L1675.5,451.0L1676.0,452.4L1676.5,453.8L1677.0,455.3L1677.5,456.9L1678.0,458.5L1678.5,459.4L1679.0,457.4L1679.5,455.8L1680.0,455.5L1680.5,455.3L1681.0,455.1L1681.5,454.9L1682.0,454.7L1682.5,454.5L1683.0,453.2L1683.5,451.2L1684.0,448.9L1684.5,446.3L1685.0,441.9L1685.5,436.8L1686.0,431.5L1686.5,426.7L1687.0,422.1L1687.5,418.2L1688.0,416.5L1688.5,415.6L1689.0,414.7L1689.5,413.8L1690.0,412.8L1690.5,410.8L1691.0,408.1L1691.5,405.3L1692.0,402.6L1692.5,399.9L1693.0,397.2L1693.5,395.1L1694.0,394.2L1694.5,393.4L1695.0,392.7L1695.5,392.1L1696.0,391.5L1696.5,390.8L1697.0,390.1L1697.5,388.9L1698.0,387.8L1698.5,386.5L1699.0,385.2L1699.5,383.8L1700.0,382.0L1700.5,380.0L1701.0,377.9L1701.5,375.7L1702.0,373.7L1702.5,371.7L1703.0,370.0L1703.5,368.3L1704.0,366.7L1704.5,365.1L1705.0,363.5L1705.5,362.0L1706.0,360.7L1706.5,359.5L1707.0,358.3L1707.5,357.2L1708.0,356.0L1708.5,354.9L1709.0,353.8L1709.5,352.6L1710.0,351.1L1710.5,349.7L1711.0,348.1L1711.5,346.6L1712.0,345.1L1712.5,343.7L1713.0,342.4L1713.5,341.4L1714.0,340.7L1714.5,340.1L1715.0,339.5L1715.5,338.7L1716.0,337.5L1716.5,335.8L1717.0,333.8L1717.5,331.7L1718.0,328.9L1718.5,325.6L1719.0,322.1L1719.5,318.7L1720.0,315.7L1720.5,313.2L1721.0,310.7L1721.5,308.2L1722.0,305.8L1722.5,303.4L1723.0,301.0L1723.5,298.7L1724.0,296.3L1724.5,294.0L1725.0,291.6L1725.5,289.2L1726.0,286.9L1726.5,284.5L1727.0,282.1L1727.5,279.7L1728.0,277.4L1728.5,275.0L1729.0,272.6L1729.5,270.2L1730.0,267.8L1730.5,265.5L1731.0,263.1L1731.5,260.7L1732.0,258.3L1732.5,255.9L1733.0,253.6L1733.5,251.2L1734.0,248.8L1734.5,246.4L1735.0,244.0L1735.5,241.6L1736.0,239.3L1736.5,237.0L1737.0,234.7L1737.5,232.5L1738.0,230.2L1738.5,227.7L1739.0,225.1L1739.5,222.3L1740.0,219.5L1740.5,216.7L1741.0,213.8L1741.5,210.7L1742.0,207.4L1742.5,204.2L1743.0,200.9L1743.5,197.7L1744.0,194.6L1744.5,191.8L1745.0,189.5L1745.5,187.3L1746.0,185.2L1746.5,183.3L1747.0,181.8L1747.5,180.6L1748.0,179.4L1748.5,178.3L1749.0,177.3L1749.5,176.3L1750.0,175.3L1750.5,174.6L1751.0,173.9L1751.5,173.2L1752.0,172.6L1752.5,171.9L1753.0,171.2L1753.5,170.4L1754.0,169.4L1754.5,168.4L1755.0,167.4L1755.5,166.4L1756.0,165.4L1756.5,164.5L1757.0,163.7L1757.5,163.1L1758.0,162.6L1758.5,162.2L1759.0,161.8L1759.5,161.4L1760.0,161.0L1760.5,160.6L1761.0,160.2L1761.5,159.8L1762.0,159.4L1762.5,159.0L1763.0,158.6L1763.5,158.1L1764.0,157.1L1764.5,156.0L1765.0,154.8L1765.5,153.6L1766.0,152.7L1766.5,151.8L1767.0,151.0L1767.5,150.2L1768.0,149.3L1768.5,148.5L1769.0,147.6L1769.5,146.8L1770.0,145.9L1770.5,145.1L1771.0,144.2L1771.5,143.4L1772.0,142.5L1772.5,141.7L1773.0,140.8L1773.5,140.0L1774.0,139.1L1774.5,138.2L1775.0,137.3L1775.5,136.5L1776.0,135.7L1776.5,135.1L1777.0,134.6L1777.5,134.1L1778.0,133.6L1778.5,133.1L1779.0,132.6L1779.5,132.2L1780.0,131.9L1780.5,131.5L1781.0,131.2L1781.5,130.9L1782.0,130.5L1782.5,130.1L1783.0,129.8L1783.5,129.4L1784.0,129.1L1784.5,128.7L1785.0,128.4L1785.5,128.0L1786.0,127.7L1786.5,127.3L1787.0,127.0L1787.5,126.6L1788.0,126.3L1788.5,125.9L1789.0,125.6L1789.5,125.2L1790.0,124.8L1790.5,124.5L1791.0,124.1L1791.5,123.8L1792.0,123.4L1792.5,123.1L1793.0,122.7L1793.5,122.4L1794.0,122.0L1794.5,121.7L1795.0,121.3L1795.5,121.0L1796.0,120.6L1796.5,120.2L1797.0,119.9L1797.5,119.5L1798.0,119.2L1798.5,118.8L1799.0,118.5L1799.5,118.1L1800.0,117.8L1800.5,117.4L1801.0,117.1L1801.5,116.7L1802.0,116.4L1802.5,116.0L1803.0,115.7L1803.5,115.3L1804.0,114.9L1804.5,114.6L1805.0,114.2L1805.5,113.9L1806.0,113.5L1806.5,113.2L1807.0,112.8L1807.5,112.5L1808.0,112.1L1808.5,111.8L1809.0,111.4L1809.5,111.1L1810.0,110.7L1810.5,110.4L1811.0,110.0L1811.5,109.6L1812.0,109.3L1812.5,108.9L1813.0,108.6L1813.5,108.2L1814.0,107.9L1814.5,107.5L1815.0,107.2L1815.5,106.8L1816.0,106.5L1816.5,106.1L1817.0,105.7L1817.5,105.4L1818.0,105.0L1818.5,104.7L1819.0,104.3L1819.5,104.0L1820.0,103.6L1820.5,103.3L1821.0,102.9L1821.5,102.6L1822.0,102.2L1822.5,101.9L1823.0,101.5L1823.5,101.5" stroke="#ff0000"/>
<path d="M319.5,497.0L320.0,518.0L320.5,536.6L321.0,553.0L321.5,567.2L322.0,579.3L322.5,589.6L323.0,598.1L323.5,605.0L324.0,598.9L324.5,589.8L325.0,580.0L325.5,567.4L326.0,553.6L326.5,539.2L327.0,524.3L327.5,509.5L328.0,495.0L328.5,479.5L329.0,462.7L329.5,446.3L330.0,432.2L330.5,422.0L330.6,420.6L331.0,423.5L331.5,429.0L332.0,435.6L332.5,442.5L332.9,448.1L333.0,448.9L333.5,454.7L334.0,460.6L334.5,466.5L335.0,472.4L335.3,475.5L335.5,478.4L336.0,484.8L336.5,491.2L337.0,497.2L337.5,502.2L337.6,503.0L338.0,504.4L338.5,505.9L339.0,507.1L339.5,508.4L340.0,509.9L340.4,511.5L340.5,513.2L341.0,524.8L341.5,539.8L342.0,556.4L342.5,572.6L342.8,580.0L343.0,586.8L343.5,601.3L344.0,616.1L344.5,630.5L345.0,643.3L345.5,653.6L345.9,659.4L346.0,656.7L346.5,633.7L347.0,603.8L347.5,580.0L348.0,572.5L348.5,565.6L349.0,559.2L349.5,553.4L350.0,548.3L350.5,543.9L351.0,540.3L351.5,537.5L352.0,540.7L352.5,545.5L353.0,551.1L353.5,557.1L353.8,560.0L354.0,563.5L354.5,570.8L355.0,578.8L355.5,588.0L355.6,590.0L356.0,605.4L356.5,628.5L356.9,647.5L357.0,652.5L357.5,678.9L358.0,705.3L358.3,720.0L358.5,728.2L359.0,749.5L359.5,768.6L360.0,781.2L360.5,779.5L361.0,776.9L361.5,774.0L361.9,772.1L362.0,771.4L362.5,769.0L363.0,766.5L363.5,764.1L363.7,762.9L364.0,761.6L364.5,759.3L365.0,757.0L365.5,754.3L365.6,753.8L366.0,750.0L366.5,744.8L367.0,738.9L367.5,732.5L368.0,722.3L368.1,720.0L368.5,706.1L369.0,686.6L369.4,672.5L369.5,670.1L370.0,657.7L370.5,645.5L371.0,634.3L371.5,624.9L372.0,618.0L372.1,617.0L372.5,621.7L373.0,630.8L373.5,641.9L374.0,653.2L374.5,663.2L375.0,670.0L375.5,670.7L376.0,671.3L376.5,672.0L377.0,680.0L377.5,691.4L378.0,703.8L378.5,715.0L379.0,723.2L379.5,731.0L380.0,738.5L380.3,743.0L380.5,745.9L381.0,753.1L381.2,756.0L381.5,757.2L382.0,759.1L382.5,760.7L383.0,762.1L383.5,763.6L384.0,765.5L384.4,767.5L384.5,769.0L385.0,778.8L385.5,792.0L385.6,795.0L386.0,826.3L386.5,873.7L386.7,890.0L387.0,906.7L387.5,930.0L388.0,939.7L388.1,941.0L388.5,942.7L389.0,944.2L389.4,945.0L389.5,944.8L390.0,943.0L390.5,941.2L390.6,941.0L391.0,948.4L391.5,962.6L392.0,978.6L392.5,992.5L393.0,1001.7L393.5,1010.7L394.0,1018.1L394.4,1022.0L394.5,1021.7L395.0,1019.6L395.5,1016.6L396.0,1013.7L396.2,1012.5L396.5,1011.7L397.0,1010.4L397.5,1009.2L398.0,1008.0L398.5,1006.7L399.0,1005.0L399.5,1000.2L400.0,994.2L400.5,987.4L400.6,986.0L401.0,976.9L401.5,964.3L401.9,957.5L402.0,958.0L402.5,963.1L403.0,968.2L403.1,968.8L403.5,965.9L404.0,960.2L404.4,955.0L404.5,952.7L405.0,939.0L405.5,923.0L405.9,910.0L406.0,906.6L406.5,889.1L407.0,870.0L407.5,840.2L408.0,811.7L408.1,807.5L408.5,801.0L409.0,794.0L409.5,788.0L410.0,782.6L410.5,777.6L411.0,772.6L411.2,770.0L411.5,767.7L412.0,763.0L412.5,758.4L413.0,754.3L413.5,751.1L413.8,750.0L414.0,750.8L414.5,753.5L415.0,756.9L415.5,760.3L416.0,762.9L416.2,763.8L416.5,763.1L417.0,761.0L417.5,758.4L418.0,755.7L418.5,753.6L418.8,753.0L419.0,754.8L419.5,760.2L420.0,767.1L420.5,774.6L420.6,776.0L421.0,783.7L421.5,794.2L422.0,805.5L422.5,817.5L423.0,834.9L423.1,837.0L423.5,836.0L424.0,834.1L424.5,831.7L425.0,829.4L425.5,827.3L426.0,826.0L426.5,839.5L426.9,851.0L427.0,851.9L427.5,855.8L428.0,858.9L428.5,861.5L428.8,862.5L429.0,862.8L429.5,863.4L430.0,864.0L430.5,870.4L431.0,879.0L431.5,885.0L432.0,880.5L432.5,873.7L433.0,866.0L433.5,858.9L433.8,856.0L434.0,854.2L434.5,850.8L435.0,847.6L435.5,844.6L436.0,841.8L436.5,839.3L436.9,837.5L437.0,837.2L437.5,835.9L438.0,834.7L438.5,833.5L439.0,832.4L439.5,831.6L440.0,831.0L440.5,833.4L441.0,836.8L441.5,840.9L442.0,845.5L442.5,850.0L443.0,856.9L443.5,865.1L444.0,873.7L444.5,882.0L445.0,889.2L445.5,894.3L445.6,895.0L446.0,891.1L446.5,883.5L447.0,875.0L447.5,868.1L447.8,866.0L448.0,868.3L448.5,875.7L449.0,884.7L449.5,892.1L449.8,894.4L450.0,894.3L450.5,894.2L451.0,893.9L451.5,893.7L452.0,893.4L452.1,893.4L452.5,893.2L453.0,893.0L453.5,892.8L454.0,892.6L454.5,892.4L454.5,892.3L455.0,892.1L455.5,891.9L456.0,891.7L456.5,891.5L456.8,891.3L457.0,891.3L457.5,891.0L458.0,890.8L458.5,890.6L459.0,890.4L459.2,890.3L459.5,890.2L460.0,889.9L460.5,889.7L461.0,889.5L461.5,889.3L461.5,889.3L462.0,889.1L462.5,888.9L463.0,888.6L463.5,888.4L463.9,888.2L464.0,888.2L464.5,888.0L465.0,887.8L465.5,887.6L466.0,887.3L466.3,887.2L466.5,887.1L467.0,886.9L467.5,886.7L468.0,886.5L468.5,886.3L468.6,886.2L469.0,886.0L469.5,885.8L470.0,885.6L470.5,885.4L471.0,885.2L471.0,885.2L471.5,885.0L472.0,884.7L472.5,884.5L473.0,884.3L473.3,884.1L473.5,884.1L474.0,883.9L474.5,883.6L475.0,883.4L475.5,883.2L475.7,883.1L476.0,883.0L476.5,882.8L477.0,882.6L477.5,882.3L478.0,882.1L478.1,882.1L478.5,881.9L479.0,881.7L479.5,881.5L480.0,881.3L480.4,881.1L480.5,881.0L481.0,880.8L481.5,880.6L482.0,880.4L482.5,880.2L482.8,880.0L483.0,880.0L483.5,879.7L484.0,879.5L484.5,879.3L485.0,879.1L485.1,879.0L485.5,878.9L486.0,878.7L486.5,878.5L487.0,878.3L487.5,878.0L488.0,874.1L488.5,868.5L489.0,862.2L489.5,856.0L490.0,851.0L490.5,848.4L491.0,846.0L491.5,844.0L491.9,843.0L492.0,843.3L492.5,845.9L493.0,848.5L493.1,848.8L493.5,848.2L494.0,847.1L494.5,845.8L494.8,845.0L495.0,843.0L495.5,837.5L496.0,832.0L496.2,830.0L496.5,829.3L497.0,828.2L497.5,827.5L498.0,829.9L498.5,833.0L498.8,834.0L499.0,831.3L499.5,822.8L500.0,812.4L500.5,802.6L500.6,801.0L501.0,795.8L501.5,789.6L502.0,783.8L502.5,779.0L503.0,776.5L503.5,774.1L504.0,772.1L504.5,770.5L504.8,770.0L505.0,770.1L505.5,770.5L506.0,771.0L506.5,771.6L507.0,772.3L507.5,773.0L508.0,775.6L508.5,779.0L509.0,782.8L509.5,786.6L510.0,790.0L510.5,792.5L511.0,794.9L511.5,797.2L512.0,799.2L512.5,801.0L513.0,801.8L513.5,802.5L514.0,803.1L514.4,803.8L514.5,804.0L515.0,805.8L515.5,807.7L516.0,809.0L516.5,807.2L516.9,805.0L517.0,803.8L517.5,795.6L518.0,787.2L518.1,786.0L518.5,783.7L519.0,781.2L519.5,779.0L520.0,776.9L520.5,775.1L521.0,773.4L521.2,772.5L521.5,771.9L522.0,771.0L522.5,770.1L523.0,769.0L523.1,768.8L523.5,766.6L524.0,763.1L524.5,759.7L525.0,757.5L525.5,757.8L526.0,758.2L526.5,758.6L526.9,758.8L527.0,758.6L527.5,757.4L528.0,756.1L528.1,756.0L528.5,757.0L529.0,758.9L529.5,761.3L530.0,763.9L530.5,766.5L531.0,768.9L531.2,770.0L531.5,770.9L532.0,772.7L532.5,774.4L533.0,776.0L533.5,777.7L534.0,779.3L534.5,780.9L535.0,782.5L535.5,784.1L536.0,785.7L536.5,786.9L536.6,787.0L537.0,785.3L537.5,782.2L538.0,778.4L538.5,774.3L539.0,770.3L539.4,767.5L539.5,766.9L540.0,763.9L540.5,760.8L541.0,757.8L541.5,755.2L542.0,753.2L542.2,752.5L542.5,752.5L543.0,752.6L543.5,752.7L544.0,752.8L544.5,752.9L545.0,753.0L545.5,752.7L546.0,752.3L546.5,751.7L547.0,751.3L547.5,751.0L548.0,751.3L548.5,751.7L549.0,752.3L549.5,752.7L550.0,753.0L550.5,752.0L551.0,750.4L551.5,748.7L551.9,747.5L552.0,747.2L552.5,746.0L553.0,744.7L553.5,743.5L553.8,743.0L554.0,742.6L554.5,741.9L555.0,741.3L555.5,740.7L555.6,740.6L556.0,740.4L556.5,740.2L556.9,740.0L557.0,739.8L557.5,738.1L558.0,735.9L558.5,733.6L558.8,732.5L559.0,731.3L559.5,728.8L560.0,726.1L560.5,723.2L560.6,722.5L561.0,717.5L561.5,710.3L561.9,706.2L562.0,706.2L562.5,705.8L563.0,705.5L563.5,705.2L563.8,705.0L564.0,704.0L564.5,701.0L565.0,697.5L565.5,691.4L566.0,685.0L566.2,682.5L566.5,681.5L567.0,679.8L567.5,678.8L568.0,679.1L568.5,679.6L569.0,680.0L569.5,677.3L570.0,673.4L570.5,670.3L570.6,670.0L571.0,670.1L571.5,670.4L572.0,670.7L572.5,671.0L573.0,671.2L573.1,671.2L573.5,670.8L574.0,669.8L574.5,668.8L575.0,668.0L575.5,667.8L576.0,667.6L576.5,667.4L577.0,667.2L577.5,667.0L578.0,666.4L578.5,665.6L579.0,664.7L579.5,663.7L580.0,662.5L580.5,658.7L581.0,653.8L581.5,648.7L581.9,645.0L582.0,644.3L582.5,640.4L583.0,636.8L583.5,634.4L584.0,635.4L584.5,636.9L585.0,638.8L585.5,645.0L586.0,653.1L586.5,662.3L586.9,670.0L587.0,672.6L587.5,686.0L588.0,687.1L588.5,687.8L588.8,688.0L589.0,682.8L589.5,666.0L590.0,651.0L590.5,646.6L591.0,642.9L591.5,640.6L592.0,646.8L592.5,656.1L593.0,665.8L593.1,667.5L593.5,674.8L594.0,683.9L594.4,690.0L594.5,690.8L595.0,694.6L595.5,697.5L595.6,698.0L596.0,698.7L596.5,699.4L596.9,700.0L597.0,700.3L597.5,702.0L598.0,703.8L598.5,705.0L599.0,700.7L599.5,694.8L599.8,692.5L600.0,691.4L600.5,689.5L601.0,688.0L601.2,687.5L601.5,689.9L602.0,697.8L602.5,707.5L603.0,727.2L603.5,748.1L603.8,755.0L604.0,755.9L604.5,757.4L605.0,758.5L605.5,759.3L605.6,759.4L606.0,751.4L606.5,736.8L606.9,728.8L607.0,729.1L607.5,731.4L608.0,734.8L608.5,738.8L609.0,749.8L609.5,763.0L610.0,772.2L610.5,750.5L611.0,720.2L611.2,707.5L611.5,699.4L612.0,684.2L612.5,672.5L613.0,668.6L613.5,665.5L614.0,663.3L614.1,663.0L614.5,664.2L615.0,666.6L615.5,669.4L615.6,670.0L616.0,674.9L616.5,682.4L617.0,690.3L617.5,697.5L618.0,703.1L618.4,706.2L618.5,706.1L619.0,705.0L619.5,703.4L620.0,701.2L620.5,686.7L621.0,667.0L621.2,657.5L621.5,647.4L621.9,633.8L622.0,633.3L622.5,631.5L623.0,630.1L623.5,629.0L624.0,627.9L624.3,627.1L624.5,626.6L625.0,625.3L625.5,623.9L626.0,622.5L626.5,621.2L626.7,620.5L627.0,619.8L627.5,618.4L628.0,617.1L628.5,615.7L629.0,614.3L629.2,613.9L629.5,613.0L630.0,611.6L630.5,610.3L631.0,608.9L631.5,607.5L631.6,607.3L632.0,606.2L632.5,604.8L633.0,603.4L633.5,602.1L634.0,600.7L634.0,600.7L634.5,599.3L635.0,598.0L635.5,596.6L636.0,595.2L636.4,594.1L636.5,593.9L637.0,592.5L637.5,591.1L638.0,589.8L638.5,588.4L638.8,587.5L639.0,587.0L639.5,585.7L640.0,584.3L640.5,582.9L641.0,581.6L641.2,580.9L641.5,580.2L642.0,578.8L642.5,577.5L643.0,576.1L643.5,574.7L643.7,574.3L644.0,573.4L644.5,572.0L645.0,570.6L645.5,569.3L646.0,567.9L646.1,567.7L646.5,566.5L647.0,565.2L647.5,563.8L648.0,562.4L648.5,561.1L648.5,561.0L649.0,559.7L649.5,558.3L650.0,557.0L650.5,555.6L650.9,554.4L651.0,554.2L651.5,552.9L652.0,551.5L652.5,550.1L653.0,548.8L653.3,547.8L653.5,547.4L654.0,546.0L654.5,544.7L655.0,543.3L655.5,541.9L655.8,541.2L656.0,540.6L656.5,539.2L657.0,537.8L657.5,536.5L658.0,535.1L658.2,534.6L658.5,533.7L659.0,532.1L659.5,530.5L660.0,529.1L660.5,528.1L660.6,528.0L661.0,538.0L661.5,556.8L661.9,570.0L662.0,571.8L662.5,580.2L663.0,587.4L663.1,588.8L663.5,592.8L664.0,597.3L664.4,600.0L664.5,600.2L665.0,600.9L665.5,601.5L666.0,602.1L666.2,602.5L666.5,603.3L667.0,605.3L667.5,607.5L668.0,610.7L668.5,613.9L668.8,615.0L669.0,615.2L669.5,615.5L670.0,615.8L670.5,616.2L670.6,616.2L671.0,617.1L671.5,618.6L671.9,620.0L672.0,620.8L672.5,625.8L673.0,631.5L673.1,632.5L673.5,636.3L674.0,641.1L674.4,645.0L674.5,646.1L675.0,652.0L675.5,658.0L676.0,664.3L676.2,667.5L676.5,671.6L676.9,677.0L677.0,677.0L677.5,677.0L678.0,677.0L678.5,677.0L678.8,677.0L679.0,677.9L679.5,680.5L680.0,683.8L680.5,687.5L681.0,691.0L681.2,692.5L681.5,693.8L682.0,696.5L682.5,699.2L683.0,701.5L683.5,703.0L684.0,701.2L684.5,698.3L685.0,695.0L685.5,687.1L686.0,677.4L686.5,666.5L686.9,657.5L687.0,654.7L687.5,639.6L688.0,623.3L688.1,620.0L688.5,604.1L689.0,583.5L689.4,570.0L689.5,568.4L690.0,561.0L690.5,554.5L691.0,549.6L691.2,548.0L691.5,549.6L692.0,554.5L692.5,561.0L693.0,568.4L693.1,570.0L693.5,583.2L694.0,603.5L694.4,620.0L694.5,624.1L695.0,645.2L695.5,666.0L695.6,670.0L696.0,684.2L696.5,701.7L697.0,718.1L697.5,732.5L698.0,741.2L698.5,749.1L699.0,756.5L699.5,763.4L700.0,770.0L700.5,775.4L701.0,780.6L701.5,785.6L702.0,790.0L702.5,793.8L703.0,795.5L703.5,797.0L704.0,798.0L704.5,796.0L705.0,793.0L705.5,789.5L705.6,788.8L706.0,783.1L706.5,774.3L707.0,765.3L707.5,757.5L708.0,752.7L708.5,748.7L708.8,747.5L709.0,747.6L709.5,748.0L710.0,748.5L710.2,748.8L710.5,752.0L711.0,761.7L711.5,773.4L711.9,782.5L712.0,784.9L712.5,797.8L712.8,803.0L713.0,801.8L713.5,796.8L714.0,790.0L714.5,769.2L715.0,745.0L715.5,722.6L716.0,702.0L716.2,695.0L716.5,693.7L717.0,691.8L717.2,691.2L717.5,692.8L718.0,697.7L718.5,704.1L718.8,707.5L719.0,713.8L719.5,728.7L720.0,746.2L720.3,757.5L720.5,768.4L721.0,800.0L721.5,846.8L721.6,855.0L722.0,875.6L722.5,897.5L722.7,905.0L723.0,912.3L723.5,923.3L724.0,930.6L724.5,927.0L725.0,921.8L725.5,915.5L726.0,908.5L726.2,905.0L726.5,899.3L727.0,886.1L727.5,871.7L728.0,857.7L728.1,855.0L728.5,844.8L729.0,832.3L729.4,823.8L729.5,822.5L730.0,817.1L730.5,812.4L731.0,807.9L731.5,803.0L732.0,796.7L732.5,790.0L733.0,784.7L733.1,784.0L733.5,783.2L734.0,782.4L734.4,782.0L734.5,782.3L735.0,784.5L735.5,787.6L736.0,790.3L736.2,791.2L736.5,791.5L737.0,791.8L737.5,792.0L738.0,789.6L738.5,785.9L739.0,781.7L739.5,777.4L740.0,773.8L740.5,771.0L741.0,768.3L741.5,765.6L742.0,763.0L742.5,760.7L743.0,758.8L743.5,757.5L744.0,759.1L744.5,761.5L745.0,764.2L745.5,767.0L745.6,767.5L746.0,769.9L746.5,773.0L747.0,776.1L747.5,778.8L748.0,780.5L748.5,782.0L749.0,783.0L749.5,781.9L750.0,780.2L750.5,778.6L751.0,777.5L751.5,779.8L752.0,783.3L752.5,787.0L753.0,791.9L753.5,797.2L753.8,800.0L754.0,803.3L754.5,810.4L755.0,817.5L755.5,824.6L756.0,832.1L756.5,839.3L757.0,845.3L757.5,849.4L758.0,847.1L758.5,843.8L759.0,839.7L759.5,835.0L759.8,832.0L760.0,827.5L760.5,812.7L761.0,797.7L761.2,793.0L761.5,789.3L762.0,783.7L762.5,779.4L762.8,778.0L763.0,778.7L763.5,780.9L764.0,783.7L764.4,786.0L764.5,786.7L765.0,791.1L765.5,795.0L765.7,796.0L766.0,792.4L766.5,783.3L767.0,771.9L767.5,760.0L768.0,743.1L768.5,725.2L768.8,717.5L769.0,712.4L769.5,702.8L770.0,696.0L770.5,694.9L771.0,694.0L771.5,693.5L772.0,698.7L772.5,706.6L773.0,714.6L773.1,716.0L773.5,721.8L774.0,728.4L774.2,730.0L774.5,726.7L775.0,718.2L775.5,708.0L775.6,706.0L776.0,693.7L776.5,676.8L776.8,668.0L777.0,664.3L777.5,655.6L778.0,648.9L778.1,648.0L778.5,647.2L779.0,646.4L779.4,646.0L779.5,646.4L780.0,649.6L780.5,654.1L780.6,655.0L781.0,661.0L781.5,670.0L781.6,672.0L782.0,684.5L782.5,700.0L783.0,707.5L783.5,713.8L784.0,718.0L784.5,716.6L785.0,714.4L785.5,711.6L785.6,711.0L786.0,703.5L786.5,690.9L786.9,680.0L787.0,676.4L787.5,655.7L788.0,635.7L788.1,632.5L788.5,625.1L789.0,616.9L789.5,609.5L790.0,602.7L790.5,596.3L790.6,595.0L791.0,591.2L791.5,586.7L792.0,582.4L792.5,578.4L793.0,574.5L793.1,573.8L793.5,571.2L794.0,567.8L794.5,564.6L795.0,561.6L795.5,559.2L796.0,557.5L796.5,560.2L797.0,564.4L797.5,568.7L798.0,572.1L798.1,572.5L798.5,572.8L799.0,573.2L799.5,573.5L800.0,573.7L800.5,574.0L800.6,574.0L801.0,574.3L801.5,574.6L802.0,574.9L802.5,575.3L803.0,575.6L803.0,575.6L803.5,575.9L804.0,576.2L804.5,576.5L805.0,576.8L805.5,577.1L805.5,577.1L806.0,577.4L806.5,577.8L807.0,578.1L807.5,578.4L808.0,578.7L808.0,578.7L808.5,579.0L809.0,579.3L809.5,579.6L810.0,580.0L810.4,580.2L810.5,580.3L811.0,580.6L811.5,580.9L812.0,581.2L812.5,581.5L812.9,581.8L813.0,581.8L813.5,582.1L814.0,582.5L814.5,582.8L815.0,583.1L815.4,583.3L815.5,583.4L816.0,583.7L816.5,584.0L817.0,584.3L817.5,584.7L817.8,584.9L818.0,585.0L818.5,585.3L819.0,585.6L819.5,585.9L820.0,586.2L820.3,586.4L820.5,586.5L821.0,586.8L821.5,587.2L822.0,587.5L822.5,587.8L822.7,587.9L823.0,588.1L823.5,588.4L824.0,588.7L824.5,589.0L825.0,589.4L825.2,589.5L825.5,589.7L826.0,590.0L826.5,590.3L827.0,590.6L827.5,590.9L827.7,591.0L828.0,591.2L828.5,591.5L829.0,591.9L829.5,592.2L830.0,592.5L830.1,592.6L830.5,592.8L831.0,593.1L831.5,593.4L832.0,593.7L832.5,594.1L832.6,594.1L833.0,594.4L833.5,594.7L834.0,595.0L834.5,595.3L835.0,595.6L835.1,595.7L835.5,595.9L836.0,596.2L836.5,596.6L837.0,596.9L837.5,597.2L837.5,597.2L838.0,597.5L838.5,597.7L839.0,598.0L839.5,598.3L840.0,598.8L840.5,605.0L841.0,614.0L841.5,624.3L841.9,632.5L842.0,634.9L842.5,647.5L843.0,661.0L843.5,675.0L844.0,692.1L844.4,705.0L844.5,707.1L845.0,717.6L845.5,725.3L845.6,726.2L846.0,725.8L846.5,725.0L847.0,724.1L847.5,723.2L848.0,722.6L848.1,722.5L848.5,725.0L849.0,729.5L849.4,732.5L849.5,732.8L850.0,733.9L850.5,734.8L851.0,735.5L851.5,736.4L852.0,737.4L852.5,738.8L853.0,748.1L853.5,760.9L853.8,767.5L854.0,776.4L854.5,795.6L854.8,802.5L855.0,804.2L855.5,806.9L856.0,809.0L856.5,811.0L856.9,812.5L857.0,812.8L857.5,814.5L858.0,816.1L858.5,817.6L859.0,818.9L859.5,819.9L859.6,820.0L860.0,815.6L860.5,807.3L861.0,800.0L861.5,797.2L862.0,794.7L862.5,792.5L863.0,790.5L863.5,788.5L863.8,787.5L864.0,786.6L864.5,784.9L865.0,783.1L865.5,781.6L866.0,780.4L866.2,780.0L866.5,780.6L867.0,782.3L867.5,784.7L868.0,787.4L868.1,788.0L868.5,793.6L869.0,802.5L869.5,812.4L869.8,817.5L870.0,823.9L870.5,837.9L871.0,852.6L871.2,860.0L871.5,868.6L872.0,887.4L872.5,900.6L873.0,894.9L873.5,886.3L874.0,876.1L874.4,867.5L874.5,864.2L875.0,845.7L875.5,824.7L876.0,801.8L876.2,790.0L876.5,774.2L877.0,739.5L877.3,720.0L877.5,709.9L878.0,685.8L878.5,664.0L878.6,660.0L879.0,648.4L879.5,635.1L880.0,622.6L880.5,610.1L880.6,607.5L881.0,597.6L881.5,585.4L882.0,573.0L882.5,559.4L883.0,545.5L883.5,532.6L883.7,528.0L884.0,523.2L884.5,515.9L885.0,510.0L885.5,507.5L886.0,505.6L886.2,505.0L886.5,506.8L887.0,512.5L887.5,518.8L888.0,524.6L888.5,530.5L889.0,535.0L889.5,536.1L890.0,536.9L890.5,537.6L891.0,538.5L891.2,539.0L891.5,540.3L892.0,543.4L892.5,547.0L893.0,550.8L893.5,554.5L893.8,556.2L894.0,557.8L894.5,560.7L895.0,563.6L895.5,566.5L896.0,569.7L896.4,572.5L896.5,573.6L897.0,580.4L897.5,585.6L898.0,565.0L898.4,545.0L898.5,541.4L899.0,525.0L899.5,516.3L900.0,510.0L900.5,508.5L901.0,507.3L901.2,507.0L901.5,507.9L902.0,510.8L902.5,514.4L903.0,518.1L903.1,518.8L903.5,521.9L904.0,526.1L904.5,529.5L904.8,530.6L905.0,527.2L905.5,516.0L906.0,506.2L906.5,503.8L907.0,501.8L907.5,500.1L908.0,498.9L908.1,498.8L908.5,499.0L909.0,499.6L909.5,500.2L910.0,500.6L910.5,498.3L911.0,494.9L911.5,490.9L911.9,487.5L912.0,486.2L912.5,479.3L913.0,471.4L913.5,462.5L914.0,448.4L914.5,432.4L915.0,415.0L915.5,390.5L916.0,364.4L916.2,352.5L916.5,343.0L917.0,324.2L917.5,306.9L918.0,292.4L918.1,290.0L918.5,285.2L919.0,279.6L919.5,274.7L920.0,270.9L920.4,268.8L920.5,269.2L921.0,272.6L921.5,277.3L922.0,283.2L922.5,290.0L923.0,312.0L923.5,339.5L923.8,352.5L924.0,364.2L924.5,387.1L925.0,410.0L925.5,433.3L925.6,437.5L926.0,450.2L926.5,464.7L926.9,475.0L927.0,476.8L927.5,485.1L928.0,492.7L928.5,500.0L929.0,506.2L929.5,512.1L930.0,518.8L930.5,530.4L931.0,543.5L931.2,550.0L931.5,556.9L932.0,572.0L932.5,584.8L932.8,588.8L933.0,587.3L933.5,582.9L934.0,577.2L934.5,571.3L935.0,566.0L935.5,561.6L936.0,557.2L936.5,553.9L936.7,553.0L937.0,553.2L937.5,553.6L938.0,554.1L938.3,554.5L938.5,555.4L939.0,558.5L939.5,561.6L939.8,562.5L940.0,561.6L940.5,558.9L941.0,555.4L941.5,551.4L941.9,548.0L942.0,546.7L942.5,539.0L943.0,529.9L943.1,528.0L943.5,516.9L944.0,501.2L944.4,487.5L944.5,482.9L945.0,458.1L945.5,430.7L945.6,425.0L946.0,394.2L946.2,377.5L946.5,370.5L947.0,359.0L947.5,350.0L948.0,345.4L948.5,341.2L949.0,337.9L949.5,335.6L950.0,339.3L950.5,344.8L951.0,350.0L951.5,353.9L952.0,357.6L952.5,360.0L953.0,359.8L953.5,359.6L954.0,359.4L954.5,359.1L955.0,358.7L955.5,358.3L956.0,357.8L956.2,357.5L956.5,355.1L957.0,347.9L957.5,340.0L958.0,331.9L958.5,324.2L958.8,321.2L959.0,320.2L959.5,318.5L959.8,318.0L960.0,320.1L960.5,327.1L961.0,332.5L961.5,317.4L961.9,302.5L962.0,299.7L962.5,285.4L963.0,273.2L963.1,271.2L963.5,267.4L964.0,263.3L964.4,261.2L964.5,261.5L965.0,262.9L965.5,265.0L966.0,267.5L966.2,268.8L966.5,271.1L967.0,276.5L967.5,282.7L968.0,288.8L968.1,290.0L968.5,294.8L969.0,301.0L969.5,307.0L970.0,312.5L970.5,316.2L971.0,319.5L971.5,322.7L972.0,326.1L972.5,330.0L973.0,336.4L973.5,343.7L974.0,352.5L974.5,371.9L975.0,395.0L975.5,425.7L975.7,437.5L976.0,450.8L976.5,471.3L976.9,487.5L977.0,491.6L977.5,511.5L978.0,532.8L978.1,537.5L978.5,566.1L978.9,595.0L979.0,600.1L979.5,624.3L980.0,645.0L980.5,656.0L981.0,665.0L981.5,674.8L981.9,685.0L982.0,691.3L982.5,730.0L983.0,744.5L983.5,757.5L984.0,768.6L984.5,777.5L985.0,783.8L985.5,780.1L986.0,774.4L986.5,767.5L987.0,749.6L987.5,727.8L987.8,717.5L988.0,708.4L988.5,690.0L989.0,664.8L989.4,645.0L989.5,641.2L990.0,622.5L990.5,604.9L991.0,589.3L991.2,582.5L991.5,578.5L992.0,571.1L992.5,565.1L992.8,563.0L993.0,562.6L993.5,562.0L994.0,560.3L994.5,558.3L995.0,556.1L995.5,553.8L995.9,552.0L996.0,551.7L996.5,549.6L997.0,547.6L997.5,545.5L998.0,543.4L998.3,542.1L998.5,541.4L999.0,539.3L999.5,537.2L1000.0,535.2L1000.5,533.1L1000.7,532.1L1001.0,531.0L1001.5,529.0L1002.0,526.9L1002.5,524.8L1003.0,522.8L1003.2,522.1L1003.5,520.7L1004.0,518.7L1004.5,516.6L1005.0,514.5L1005.5,512.5L1005.6,512.1L1006.0,510.4L1006.5,508.3L1007.0,506.3L1007.5,504.2L1008.0,502.2L1008.0,502.1L1008.5,500.1L1009.0,498.0L1009.5,495.9L1010.0,493.9L1010.4,492.2L1010.5,491.8L1011.0,489.8L1011.5,487.7L1012.0,485.6L1012.5,483.6L1012.8,482.2L1013.0,481.5L1013.5,479.4L1014.0,477.4L1014.5,475.3L1015.0,473.2L1015.2,472.2L1015.5,471.2L1016.0,469.1L1016.5,467.0L1017.0,465.0L1017.5,462.9L1017.7,462.3L1018.0,460.9L1018.5,458.8L1019.0,456.7L1019.5,454.7L1020.0,452.6L1020.1,452.3L1020.5,450.5L1021.0,448.5L1021.5,446.4L1022.0,444.3L1022.5,442.3L1022.5,442.3L1023.0,440.2L1023.5,438.1L1024.0,436.1L1024.5,434.0L1024.9,432.3L1025.0,432.0L1025.5,429.9L1026.0,427.8L1026.5,425.8L1027.0,423.7L1027.3,422.4L1027.5,421.6L1028.0,419.6L1028.5,417.5L1029.0,415.4L1029.5,413.4L1029.7,412.4L1030.0,411.3L1030.5,409.2L1031.0,407.2L1031.5,405.1L1032.0,403.1L1032.2,402.4L1032.5,401.0L1033.0,398.9L1033.5,396.9L1034.0,394.8L1034.5,392.7L1034.6,392.4L1035.0,390.7L1035.5,388.6L1036.0,386.5L1036.5,384.5L1037.0,382.5L1037.0,382.4L1037.5,380.5L1038.0,378.7L1038.5,376.8L1039.0,374.6L1039.4,372.5L1039.5,371.2L1040.0,362.7L1040.5,353.9L1040.6,352.5L1041.0,349.2L1041.5,345.5L1042.0,342.8L1042.1,342.5L1042.5,345.2L1043.0,350.3L1043.5,356.1L1043.8,358.8L1044.0,361.3L1044.5,366.3L1045.0,371.3L1045.5,376.5L1045.6,377.5L1046.0,381.5L1046.5,386.7L1046.9,392.5L1047.0,399.3L1047.5,443.8L1048.0,406.9L1048.1,400.0L1048.5,384.8L1048.8,377.5L1049.0,374.2L1049.5,368.3L1050.0,363.7L1050.4,361.2L1050.5,361.6L1051.0,364.5L1051.5,368.3L1051.9,371.2L1052.0,371.9L1052.5,375.5L1053.0,378.9L1053.5,381.2L1054.0,377.8L1054.5,372.6L1055.0,367.6L1055.4,365.0L1055.5,365.2L1056.0,366.2L1056.5,367.6L1057.0,369.5L1057.5,372.0L1058.0,392.7L1058.2,402.0L1058.5,415.5L1059.0,435.0L1059.5,440.4L1060.0,444.7L1060.5,447.6L1060.6,448.0L1061.0,446.6L1061.5,443.9L1062.0,440.7L1062.5,437.5L1063.0,433.8L1063.5,429.7L1064.0,425.7L1064.5,422.3L1065.0,420.0L1065.5,425.9L1066.0,434.8L1066.5,444.0L1066.9,450.0L1067.0,450.8L1067.5,454.6L1068.0,458.1L1068.5,461.0L1069.0,463.0L1069.5,457.0L1070.0,448.1L1070.5,439.1L1070.6,437.5L1071.0,431.8L1071.5,424.7L1072.0,418.0L1072.5,412.5L1073.0,409.8L1073.5,407.3L1074.0,405.2L1074.5,403.7L1074.6,403.5L1075.0,405.2L1075.5,408.1L1076.0,411.7L1076.5,415.9L1077.0,420.4L1077.5,425.0L1078.0,432.8L1078.5,441.7L1079.0,450.0L1079.5,456.4L1080.0,462.0L1080.2,463.8L1080.5,463.7L1081.0,463.4L1081.5,463.0L1082.0,462.7L1082.5,462.5L1083.0,463.1L1083.5,463.9L1084.0,464.9L1084.5,466.2L1085.0,467.5L1085.5,471.5L1086.0,476.7L1086.5,482.6L1086.9,487.5L1087.0,489.2L1087.5,498.0L1088.0,507.8L1088.5,518.9L1088.8,525.0L1089.0,535.4L1089.5,559.9L1089.7,570.0L1090.0,588.2L1090.5,618.0L1090.6,622.5L1091.0,630.3L1091.5,638.6L1092.0,645.7L1092.5,652.2L1093.0,658.7L1093.1,660.0L1093.5,664.4L1094.0,669.6L1094.5,674.7L1095.0,679.6L1095.5,684.4L1096.0,689.0L1096.2,691.2L1096.5,693.2L1097.0,697.1L1097.5,700.9L1098.0,704.4L1098.5,707.4L1098.8,708.8L1099.0,709.4L1099.5,710.5L1100.0,711.6L1100.5,712.5L1101.0,713.4L1101.2,713.8L1101.5,714.0L1102.0,714.4L1102.5,714.7L1103.0,715.1L1103.5,715.4L1104.0,715.8L1104.4,716.2L1104.5,716.5L1105.0,717.9L1105.5,719.8L1106.0,722.0L1106.5,728.4L1107.0,736.5L1107.5,745.0L1108.0,754.8L1108.5,765.0L1109.0,775.8L1109.4,785.0L1109.5,787.9L1110.0,803.3L1110.5,819.7L1111.0,836.5L1111.2,845.0L1111.5,853.9L1112.0,872.3L1112.2,880.0L1112.5,893.9L1113.0,917.9L1113.1,922.5L1113.5,938.9L1114.0,958.5L1114.4,972.5L1114.5,974.9L1115.0,985.9L1115.5,995.9L1116.0,1005.4L1116.2,1010.0L1116.5,1014.0L1117.0,1021.8L1117.5,1029.3L1118.0,1036.2L1118.1,1037.5L1118.5,1041.4L1119.0,1045.9L1119.5,1050.3L1120.0,1055.0L1120.5,1060.6L1121.0,1066.3L1121.5,1072.2L1122.0,1078.4L1122.5,1085.0L1123.0,1094.3L1123.5,1104.5L1124.0,1115.1L1124.5,1125.5L1125.0,1135.0L1125.5,1142.5L1126.0,1150.0L1126.5,1157.0L1127.0,1163.4L1127.5,1168.8L1128.0,1171.5L1128.5,1173.9L1129.0,1175.9L1129.4,1177.0L1129.5,1176.5L1130.0,1173.3L1130.5,1168.6L1131.0,1163.0L1131.2,1160.0L1131.5,1153.6L1132.0,1137.8L1132.5,1119.7L1133.0,1101.1L1133.1,1097.5L1133.5,1081.9L1134.0,1061.8L1134.4,1045.0L1134.5,1040.2L1135.0,1014.9L1135.5,989.7L1135.6,985.0L1136.0,968.7L1136.5,949.3L1136.9,935.0L1137.0,932.2L1137.5,917.8L1137.9,910.0L1138.0,911.2L1138.5,920.3L1139.0,932.9L1139.5,946.9L1140.0,960.0L1140.5,973.3L1141.0,987.3L1141.5,999.3L1141.9,1005.6L1142.0,1005.4L1142.5,1004.0L1143.0,1001.9L1143.5,999.2L1143.8,997.5L1144.0,981.8L1144.5,935.2L1144.8,915.0L1145.0,904.6L1145.5,887.0L1146.0,869.9L1146.2,860.0L1146.5,845.6L1147.0,813.4L1147.2,800.0L1147.5,776.9L1148.0,736.5L1148.2,720.0L1148.5,692.9L1149.0,647.0L1149.2,630.0L1149.5,610.1L1150.0,579.2L1150.3,560.0L1150.5,545.2L1151.0,506.0L1151.5,470.0L1152.0,446.7L1152.5,425.6L1153.0,406.2L1153.1,402.5L1153.5,390.6L1154.0,376.4L1154.5,363.4L1155.0,352.5L1155.5,346.9L1156.0,341.6L1156.5,337.1L1157.0,333.7L1157.2,332.5L1157.5,334.0L1158.0,338.8L1158.5,344.4L1159.0,348.8L1159.5,350.0L1160.0,351.0L1160.5,351.8L1161.0,352.7L1161.5,353.8L1161.9,355.0L1162.0,356.2L1162.5,364.4L1163.0,375.2L1163.1,377.5L1163.5,395.2L1164.0,420.7L1164.2,430.0L1164.5,440.2L1165.0,455.8L1165.4,470.0L1165.5,475.8L1166.0,509.2L1166.5,545.8L1166.7,560.0L1167.0,580.9L1167.5,615.8L1167.7,630.0L1168.0,652.7L1168.5,691.4L1168.9,720.0L1169.0,725.4L1169.5,753.3L1170.0,780.6L1170.5,804.9L1171.0,823.6L1171.2,830.0L1171.5,829.5L1172.0,827.8L1172.5,825.8L1173.0,823.5L1173.5,821.3L1173.6,820.7L1174.0,819.3L1174.5,817.4L1175.0,815.5L1175.5,813.5L1176.0,811.6L1176.0,811.5L1176.5,809.7L1177.0,807.7L1177.5,805.8L1178.0,803.8L1178.4,802.2L1178.5,801.9L1179.0,800.0L1179.5,798.0L1180.0,796.1L1180.5,794.2L1180.8,792.9L1181.0,792.2L1181.5,790.3L1182.0,788.3L1182.5,786.4L1183.0,784.5L1183.2,783.7L1183.5,782.5L1184.0,780.6L1184.5,778.7L1185.0,776.7L1185.5,774.8L1185.6,774.4L1186.0,772.9L1186.5,770.9L1187.0,769.0L1187.5,767.0L1188.0,765.1L1188.0,765.1L1188.5,763.2L1189.0,761.2L1189.5,759.3L1190.0,757.4L1190.4,755.9L1190.5,755.4L1191.0,753.5L1191.5,751.5L1192.0,749.6L1192.5,747.7L1192.8,746.6L1193.0,745.7L1193.5,743.8L1194.0,741.9L1194.5,739.9L1195.0,738.0L1195.2,737.4L1195.5,736.0L1196.0,734.1L1196.5,732.2L1197.0,730.2L1197.5,728.3L1197.6,728.1L1198.0,726.4L1198.5,724.4L1199.0,722.5L1199.5,720.5L1199.9,718.8L1200.0,718.6L1200.5,716.7L1201.0,714.7L1201.5,712.8L1202.0,710.9L1202.3,709.6L1202.5,708.9L1203.0,707.0L1203.5,705.0L1204.0,703.1L1204.5,701.2L1204.7,700.3L1205.0,699.2L1205.5,697.3L1206.0,695.4L1206.5,693.4L1207.0,691.5L1207.1,691.0L1207.5,689.5L1208.0,687.6L1208.5,685.7L1209.0,683.7L1209.5,681.8L1209.5,681.8L1210.0,680.0L1210.5,678.4L1211.0,676.7L1211.5,674.6L1211.9,672.5L1212.0,670.2L1212.5,653.3L1213.0,633.5L1213.1,630.0L1213.5,617.6L1214.0,602.2L1214.5,587.0L1215.0,572.2L1215.5,557.9L1216.0,544.1L1216.2,537.5L1216.5,532.0L1217.0,521.2L1217.5,510.8L1218.0,500.9L1218.5,491.8L1218.8,487.5L1219.0,484.5L1219.5,478.9L1220.0,473.6L1220.5,468.5L1221.0,463.7L1221.5,458.9L1221.9,455.0L1222.0,454.1L1222.5,449.6L1223.0,445.2L1223.5,440.9L1224.0,436.8L1224.4,433.8L1224.5,433.2L1225.0,430.0L1225.5,426.9L1226.0,424.1L1226.5,421.9L1226.9,420.6L1227.0,420.9L1227.5,423.3L1228.0,426.7L1228.5,430.6L1229.0,434.5L1229.4,437.5L1229.5,438.2L1230.0,442.3L1230.5,446.3L1231.0,449.9L1231.2,451.2L1231.5,451.8L1232.0,452.8L1232.5,453.5L1232.8,453.8L1233.0,453.2L1233.5,451.6L1234.0,449.5L1234.4,447.5L1234.5,446.3L1235.0,438.2L1235.5,428.4L1236.0,418.9L1236.2,415.0L1236.5,412.6L1237.0,408.0L1237.5,403.9L1238.0,400.6L1238.1,400.0L1238.5,399.0L1239.0,398.0L1239.5,397.1L1240.0,396.2L1240.5,395.6L1241.0,395.1L1241.5,394.4L1241.9,393.8L1242.0,393.1L1242.5,388.4L1243.0,382.4L1243.1,381.2L1243.5,374.7L1244.0,365.7L1244.4,358.8L1244.5,357.2L1245.0,348.9L1245.5,340.9L1246.0,333.9L1246.2,331.2L1246.5,330.2L1247.0,328.3L1247.5,326.6L1248.0,325.2L1248.5,324.1L1248.8,323.8L1249.0,325.4L1249.5,330.4L1250.0,336.7L1250.2,340.0L1250.5,344.8L1251.0,355.9L1251.5,367.9L1251.9,377.5L1252.0,380.1L1252.5,393.9L1253.0,406.6L1253.1,408.8L1253.5,414.0L1254.0,420.2L1254.5,425.3L1255.0,428.8L1255.5,424.9L1256.0,419.2L1256.5,413.4L1256.9,410.0L1257.0,409.7L1257.5,408.4L1258.0,407.2L1258.5,406.2L1259.0,405.6L1259.5,407.6L1260.0,410.7L1260.5,414.3L1260.6,415.0L1261.0,419.5L1261.5,426.1L1262.0,433.1L1262.5,440.0L1263.0,447.8L1263.5,455.8L1264.0,461.8L1264.1,462.5L1264.5,460.8L1265.0,457.5L1265.5,453.4L1265.6,452.5L1266.0,444.3L1266.5,431.6L1267.0,417.3L1267.5,402.5L1268.0,384.3L1268.5,364.9L1269.0,345.0L1269.5,322.9L1270.0,300.2L1270.5,278.9L1270.6,275.0L1271.0,262.3L1271.5,246.7L1272.0,232.9L1272.5,222.5L1273.0,219.8L1273.5,217.6L1274.0,216.2L1274.5,217.1L1275.0,218.3L1275.5,219.8L1276.0,221.6L1276.2,222.5L1276.5,224.8L1277.0,230.6L1277.5,237.2L1278.0,243.8L1278.1,245.0L1278.5,249.6L1279.0,255.6L1279.5,261.4L1280.0,266.9L1280.5,271.6L1280.6,272.5L1281.0,274.7L1281.5,277.3L1282.0,279.6L1282.5,281.5L1282.9,282.5L1283.0,282.3L1283.5,281.2L1284.0,279.5L1284.5,277.4L1284.8,276.2L1285.0,272.9L1285.5,263.6L1286.0,253.3L1286.5,245.0L1287.0,241.4L1287.5,238.1L1288.0,235.2L1288.5,232.9L1289.0,231.2L1289.5,232.4L1290.0,234.1L1290.5,236.3L1291.0,238.7L1291.2,240.0L1291.5,243.0L1292.0,250.7L1292.5,259.6L1293.0,268.4L1293.1,270.0L1293.5,276.4L1294.0,284.2L1294.5,292.1L1295.0,300.1L1295.5,308.3L1295.6,310.0L1296.0,317.6L1296.5,327.4L1297.0,337.4L1297.5,347.6L1298.0,357.9L1298.1,360.0L1298.5,369.4L1299.0,382.1L1299.5,393.8L1300.0,402.5L1300.5,404.5L1301.0,406.2L1301.5,407.7L1302.0,409.0L1302.5,410.0L1302.9,410.6L1303.0,410.5L1303.5,409.5L1304.0,408.2L1304.5,406.7L1305.0,405.2L1305.3,404.5L1305.5,403.8L1306.0,402.5L1306.5,401.2L1307.0,399.9L1307.5,398.6L1307.6,398.4L1308.0,397.3L1308.5,396.0L1309.0,394.7L1309.5,393.4L1310.0,392.2L1310.0,392.1L1310.5,390.8L1311.0,389.5L1311.5,388.2L1312.0,386.9L1312.3,386.1L1312.5,385.6L1313.0,384.3L1313.5,383.0L1314.0,381.7L1314.5,380.4L1314.7,380.0L1315.0,379.1L1315.5,377.8L1316.0,376.5L1316.5,375.2L1317.0,373.9L1317.0,373.9L1317.5,372.6L1318.0,371.3L1318.5,370.0L1319.0,368.7L1319.4,367.7L1319.5,367.4L1320.0,366.1L1320.5,364.8L1321.0,363.5L1321.5,362.2L1321.7,361.6L1322.0,360.9L1322.5,359.6L1323.0,358.3L1323.5,357.0L1324.0,355.7L1324.1,355.5L1324.5,354.4L1325.0,353.1L1325.5,351.8L1326.0,350.5L1326.4,349.4L1326.5,349.2L1327.0,347.9L1327.5,346.6L1328.0,345.3L1328.5,344.0L1328.8,343.2L1329.0,342.7L1329.5,341.4L1330.0,340.1L1330.5,338.8L1331.0,337.5L1331.1,337.1L1331.5,336.1L1332.0,334.6L1332.5,333.1L1333.0,331.9L1333.5,331.0L1334.0,333.7L1334.5,337.6L1335.0,340.3L1335.5,337.8L1336.0,334.1L1336.5,329.8L1336.7,328.0L1337.0,324.1L1337.5,316.7L1338.0,308.6L1338.4,302.0L1338.5,300.1L1339.0,289.8L1339.4,282.5L1339.5,281.5L1340.0,277.1L1340.5,273.2L1341.0,270.0L1341.5,268.4L1342.0,267.0L1342.5,265.8L1343.0,264.6L1343.5,263.2L1343.8,262.5L1344.0,261.5L1344.5,259.5L1345.0,257.4L1345.5,255.1L1346.0,252.6L1346.2,251.2L1346.5,249.1L1347.0,244.3L1347.5,239.1L1348.0,233.6L1348.1,232.5L1348.5,227.2L1349.0,220.1L1349.5,213.2L1350.0,207.5L1350.5,204.8L1351.0,202.1L1351.5,199.8L1352.0,197.6L1352.5,195.9L1353.0,194.6L1353.1,194.4L1353.5,195.3L1354.0,197.1L1354.5,199.2L1355.0,201.4L1355.5,203.4L1355.6,203.8L1356.0,205.0L1356.5,206.5L1357.0,207.9L1357.5,208.8L1358.0,208.1L1358.5,207.0L1359.0,205.8L1359.5,204.5L1360.0,203.4L1360.5,202.6L1360.6,202.5L1361.0,203.0L1361.5,203.9L1362.0,204.9L1362.5,206.2L1363.0,207.6L1363.5,209.2L1363.8,210.0L1364.0,212.2L1364.5,217.8L1365.0,224.4L1365.5,231.2L1365.6,232.5L1366.0,238.8L1366.5,247.1L1367.0,255.6L1367.5,263.8L1368.0,270.8L1368.5,277.7L1369.0,284.5L1369.4,290.0L1369.5,291.4L1370.0,298.9L1370.5,306.4L1371.0,313.1L1371.2,316.0L1371.5,317.7L1372.0,320.7L1372.5,323.0L1373.0,323.7L1373.5,324.3L1374.0,324.8L1374.4,325.0L1374.5,324.9L1375.0,324.1L1375.5,322.9L1376.0,321.6L1376.2,321.0L1376.5,320.2L1377.0,318.4L1377.5,316.5L1378.0,314.9L1378.4,314.0L1378.5,314.4L1379.0,317.3L1379.5,321.5L1380.0,326.0L1380.5,332.9L1381.0,340.8L1381.5,348.9L1381.9,355.0L1382.0,356.3L1382.5,362.8L1383.0,369.2L1383.5,375.0L1383.8,377.5L1384.0,379.2L1384.5,382.4L1385.0,385.2L1385.5,387.2L1385.6,387.5L1386.0,387.0L1386.5,385.9L1387.0,384.7L1387.5,383.8L1388.0,383.2L1388.5,382.8L1389.0,382.3L1389.5,381.9L1390.0,381.2L1390.5,379.2L1391.0,376.5L1391.5,373.6L1391.9,371.2L1392.0,370.6L1392.5,367.3L1393.0,363.8L1393.5,360.4L1393.8,358.8L1394.0,357.3L1394.5,354.4L1395.0,351.6L1395.5,349.2L1395.6,348.8L1396.0,347.5L1396.5,346.2L1396.9,345.5L1397.0,345.5L1397.5,345.8L1398.0,346.1L1398.5,346.4L1398.8,346.5L1399.0,345.8L1399.5,343.0L1400.0,339.3L1400.3,337.0L1400.5,334.8L1401.0,328.5L1401.2,325.0L1401.5,319.9L1402.0,308.5L1402.5,297.0L1403.0,286.2L1403.5,274.9L1404.0,264.1L1404.5,254.6L1405.0,247.5L1405.5,245.8L1406.0,244.5L1406.5,243.3L1406.9,242.5L1407.0,242.4L1407.5,241.8L1408.0,241.3L1408.1,241.2L1408.5,242.3L1409.0,244.3L1409.5,246.6L1410.0,248.8L1410.5,250.5L1411.0,252.2L1411.5,253.7L1412.0,254.9L1412.1,255.0L1412.5,253.4L1413.0,250.3L1413.5,246.7L1413.8,245.0L1414.0,243.0L1414.5,238.7L1415.0,234.4L1415.5,230.6L1415.6,230.0L1416.0,228.6L1416.5,227.2L1416.9,226.2L1417.0,226.1L1417.5,225.6L1418.0,225.1L1418.5,224.7L1419.0,224.4L1419.5,225.3L1420.0,226.6L1420.5,228.2L1421.0,230.0L1421.5,234.1L1422.0,239.2L1422.5,245.0L1423.0,254.4L1423.5,264.9L1423.8,270.0L1424.0,275.4L1424.5,286.7L1425.0,295.0L1425.5,296.0L1426.0,296.8L1426.2,297.0L1426.5,295.0L1427.0,288.4L1427.5,282.5L1428.0,280.6L1428.5,279.0L1429.0,278.0L1429.5,278.6L1430.0,279.5L1430.5,280.6L1431.0,281.9L1431.2,282.5L1431.5,283.6L1432.0,286.4L1432.5,289.4L1433.0,292.1L1433.1,292.5L1433.5,293.7L1434.0,295.1L1434.5,296.2L1435.0,297.0L1435.5,295.7L1436.0,293.7L1436.2,292.5L1436.5,289.8L1437.0,282.6L1437.5,276.2L1438.0,273.5L1438.5,271.1L1439.0,269.0L1439.4,267.5L1439.5,267.2L1440.0,266.0L1440.5,264.8L1441.0,263.7L1441.5,262.7L1441.9,262.0L1442.0,261.9L1442.5,261.2L1443.0,260.6L1443.5,259.9L1444.0,259.3L1444.5,258.8L1445.0,258.4L1445.5,258.1L1445.6,258.0L1446.0,258.2L1446.5,258.5L1447.0,258.9L1447.5,259.4L1448.0,259.9L1448.5,260.6L1449.0,264.9L1449.5,270.7L1450.0,276.2L1450.5,280.2L1451.0,283.9L1451.5,287.5L1452.0,291.1L1452.5,295.0L1453.0,299.7L1453.5,304.7L1454.0,309.7L1454.4,313.8L1454.5,314.8L1455.0,320.5L1455.5,325.9L1455.9,328.8L1456.0,328.3L1456.5,324.5L1457.0,319.2L1457.5,313.8L1458.0,306.9L1458.5,299.5L1459.0,291.7L1459.5,283.9L1460.0,276.2L1460.5,268.7L1461.0,261.0L1461.5,253.4L1462.0,245.9L1462.5,238.8L1463.0,232.3L1463.5,225.8L1464.0,219.6L1464.5,214.1L1465.0,210.0L1465.5,209.0L1466.0,208.1L1466.5,207.4L1466.9,207.0L1467.0,207.2L1467.5,208.6L1468.0,210.6L1468.5,212.5L1469.0,213.8L1469.5,212.6L1470.0,210.9L1470.5,209.1L1471.0,208.0L1471.5,209.0L1472.0,210.5L1472.5,212.2L1473.0,214.0L1473.4,215.2L1473.5,215.6L1474.0,217.1L1474.5,218.7L1475.0,220.2L1475.5,221.7L1475.8,222.5L1476.0,223.2L1476.5,224.7L1477.0,226.3L1477.5,227.8L1478.0,229.3L1478.1,229.8L1478.5,230.8L1479.0,232.3L1479.5,233.9L1480.0,235.4L1480.5,236.9L1480.5,237.0L1481.0,238.4L1481.5,240.0L1482.0,241.5L1482.5,243.0L1482.9,244.2L1483.0,244.5L1483.5,246.0L1484.0,247.6L1484.5,249.1L1485.0,250.6L1485.3,251.5L1485.5,252.1L1486.0,253.6L1486.5,255.2L1487.0,256.7L1487.5,258.2L1487.7,258.8L1488.0,259.7L1488.5,261.3L1489.0,262.8L1489.5,264.3L1490.0,265.8L1490.1,266.0L1490.5,267.3L1491.0,268.9L1491.5,270.4L1492.0,271.9L1492.4,273.2L1492.5,273.4L1493.0,275.0L1493.5,276.5L1494.0,278.0L1494.5,279.5L1494.8,280.5L1495.0,281.0L1495.5,282.6L1496.0,284.1L1496.5,285.6L1497.0,287.1L1497.2,287.8L1497.5,288.6L1498.0,290.2L1498.5,291.7L1499.0,293.2L1499.5,294.7L1499.6,295.0L1500.0,296.3L1500.5,297.8L1501.0,299.3L1501.5,300.8L1502.0,302.2L1502.0,302.3L1502.5,303.9L1503.0,305.4L1503.5,306.9L1504.0,308.4L1504.4,309.5L1504.5,309.9L1505.0,311.5L1505.5,313.0L1506.0,314.5L1506.5,316.0L1506.7,316.8L1507.0,317.6L1507.5,319.1L1508.0,320.6L1508.5,322.1L1509.0,323.6L1509.1,324.0L1509.5,325.2L1510.0,327.0L1510.5,328.8L1511.0,330.3L1511.5,331.2L1512.0,330.9L1512.5,330.3L1513.0,329.7L1513.5,328.9L1514.0,328.2L1514.4,327.5L1514.5,327.2L1515.0,325.5L1515.5,323.3L1516.0,321.1L1516.5,319.1L1517.0,317.5L1517.2,317.0L1517.5,317.5L1518.0,319.2L1518.5,321.4L1519.0,323.5L1519.4,325.0L1519.5,325.3L1520.0,326.6L1520.5,327.9L1521.0,329.1L1521.5,330.1L1521.9,330.6L1522.0,330.4L1522.5,329.2L1523.0,327.5L1523.5,325.8L1523.8,325.0L1524.0,324.3L1524.5,322.8L1525.0,321.3L1525.5,319.9L1526.0,318.6L1526.5,317.6L1526.9,317.0L1527.0,317.1L1527.5,318.3L1528.0,319.9L1528.5,321.7L1528.8,322.5L1529.0,323.5L1529.5,325.8L1530.0,328.1L1530.5,330.5L1531.0,332.7L1531.2,333.8L1531.5,334.6L1532.0,336.3L1532.5,337.9L1533.0,339.5L1533.5,340.9L1533.8,341.5L1534.0,341.9L1534.5,342.6L1535.0,343.3L1535.5,343.9L1536.0,344.6L1536.5,345.3L1536.6,345.5L1537.0,346.7L1537.5,348.4L1538.0,350.3L1538.5,352.2L1539.0,354.0L1539.5,355.7L1540.0,357.4L1540.5,359.1L1541.0,360.9L1541.5,363.0L1542.0,366.8L1542.5,371.1L1543.0,375.9L1543.4,380.0L1543.5,381.3L1544.0,388.7L1544.5,396.7L1544.7,400.0L1545.0,405.7L1545.5,415.7L1545.9,423.0L1546.0,424.3L1546.5,430.4L1547.0,436.0L1547.5,441.0L1548.0,444.4L1548.5,447.5L1549.0,450.2L1549.4,452.0L1549.5,452.2L1550.0,453.0L1550.5,453.6L1551.0,454.2L1551.5,454.8L1552.0,455.6L1552.2,456.0L1552.5,457.5L1553.0,460.8L1553.5,464.6L1554.0,468.3L1554.1,469.0L1554.5,472.0L1555.0,476.0L1555.5,480.0L1556.0,483.3L1556.5,485.6L1557.0,483.3L1557.5,479.9L1558.0,475.9L1558.5,471.8L1558.8,470.0L1559.0,468.2L1559.5,464.6L1560.0,460.9L1560.5,457.3L1561.0,454.0L1561.5,451.3L1562.0,448.7L1562.5,446.1L1563.0,443.8L1563.5,441.7L1563.7,441.0L1564.0,440.5L1564.5,439.7L1565.0,439.0L1565.5,438.3L1566.0,437.5L1566.5,436.1L1567.0,434.4L1567.5,432.6L1568.0,430.8L1568.5,429.1L1569.0,427.6L1569.5,426.4L1569.8,426.0L1570.0,426.6L1570.5,428.4L1571.0,430.7L1571.5,433.5L1571.9,436.0L1572.0,437.3L1572.5,445.5L1573.0,454.4L1573.1,456.0L1573.5,461.3L1574.0,467.8L1574.5,474.1L1575.0,480.2L1575.5,485.9L1576.0,491.2L1576.2,493.8L1576.5,495.5L1577.0,499.1L1577.5,502.7L1578.0,506.0L1578.5,508.8L1579.0,511.2L1579.4,512.5L1579.5,512.0L1580.0,508.6L1580.5,503.8L1581.0,498.1L1581.5,492.2L1581.9,487.5L1582.0,486.1L1582.5,477.8L1583.0,469.0L1583.5,461.1L1583.8,458.0L1584.0,456.7L1584.5,454.4L1585.0,452.5L1585.5,450.7L1586.0,448.8L1586.5,446.5L1586.6,446.0L1587.0,442.4L1587.5,437.2L1588.0,431.8L1588.5,427.0L1589.0,423.6L1589.5,420.2L1590.0,417.5L1590.4,416.0L1590.5,416.6L1591.0,421.3L1591.5,427.8L1591.9,433.0L1592.0,434.4L1592.5,442.9L1593.0,449.8L1593.1,450.6L1593.5,450.6L1594.0,450.5L1594.5,450.5L1595.0,450.4L1595.5,450.3L1595.6,450.3L1596.0,450.1L1596.5,449.8L1597.0,449.5L1597.5,449.2L1598.0,448.8L1598.5,448.3L1598.8,448.0L1599.0,447.0L1599.5,444.3L1600.0,441.0L1600.5,435.5L1601.0,429.1L1601.5,422.5L1602.0,414.7L1602.5,406.5L1603.0,398.9L1603.1,397.5L1603.5,393.4L1604.0,388.6L1604.5,384.1L1605.0,380.0L1605.5,377.1L1606.0,374.3L1606.5,371.8L1606.9,370.0L1607.0,369.7L1607.5,368.3L1608.0,367.0L1608.5,365.7L1608.8,365.0L1609.0,364.1L1609.5,362.2L1610.0,360.1L1610.5,358.2L1611.0,356.7L1611.2,356.2L1611.5,356.4L1612.0,357.0L1612.5,357.6L1613.0,358.4L1613.5,359.1L1613.8,359.4L1614.0,359.7L1614.5,360.2L1615.0,360.7L1615.5,361.2L1616.0,361.7L1616.2,362.0L1616.5,362.5L1617.0,363.7L1617.5,365.0L1618.0,366.2L1618.5,367.0L1619.0,365.4L1619.5,363.1L1620.0,360.5L1620.5,357.9L1620.6,357.5L1621.0,355.9L1621.5,353.9L1622.0,351.9L1622.5,350.0L1623.0,348.0L1623.5,346.0L1623.8,345.0L1624.0,343.9L1624.5,341.6L1625.0,339.2L1625.5,336.9L1626.0,334.7L1626.2,333.8L1626.5,333.0L1627.0,331.5L1627.5,330.0L1628.0,328.8L1628.5,328.0L1629.0,328.8L1629.5,329.9L1630.0,331.1L1630.5,332.3L1630.6,332.5L1631.0,333.2L1631.5,334.0L1632.0,334.8L1632.5,335.4L1632.8,335.6L1633.0,335.5L1633.5,335.3L1634.0,335.1L1634.4,335.0L1634.5,335.1L1635.0,335.8L1635.5,336.8L1636.0,338.0L1636.5,339.3L1637.0,340.6L1637.5,342.0L1638.0,344.1L1638.5,346.5L1639.0,349.1L1639.5,351.5L1640.0,353.8L1640.5,355.3L1641.0,356.7L1641.5,358.0L1642.0,359.4L1642.4,360.5L1642.5,360.8L1643.0,362.2L1643.5,363.6L1644.0,365.0L1644.5,366.4L1644.8,367.3L1645.0,367.8L1645.5,369.2L1646.0,370.6L1646.5,372.0L1647.0,373.4L1647.2,374.0L1647.5,374.8L1648.0,376.2L1648.5,377.6L1649.0,379.1L1649.5,380.5L1649.6,380.8L1650.0,381.9L1650.5,383.3L1651.0,384.7L1651.5,386.1L1652.0,387.5L1652.0,387.6L1652.5,388.9L1653.0,390.3L1653.5,391.7L1654.0,393.1L1654.4,394.3L1654.5,394.5L1655.0,395.9L1655.5,397.3L1656.0,398.7L1656.5,400.1L1656.8,401.1L1657.0,401.5L1657.5,403.0L1658.0,404.4L1658.5,405.8L1659.0,407.2L1659.2,407.9L1659.5,408.6L1660.0,410.0L1660.5,411.4L1661.0,412.8L1661.5,414.2L1661.7,414.6L1662.0,415.6L1662.5,417.0L1663.0,418.4L1663.5,419.8L1664.0,421.2L1664.1,421.4L1664.5,422.6L1665.0,424.0L1665.5,425.4L1666.0,426.9L1666.5,428.2L1666.5,428.3L1667.0,429.7L1667.5,431.1L1668.0,432.5L1668.5,433.9L1668.9,434.9L1669.0,435.3L1669.5,436.7L1670.0,438.1L1670.5,439.5L1671.0,440.9L1671.3,441.7L1671.5,442.3L1672.0,443.7L1672.5,445.1L1673.0,446.5L1673.5,447.9L1673.7,448.5L1674.0,449.3L1674.5,450.8L1675.0,452.2L1675.5,453.6L1676.0,455.0L1676.1,455.2L1676.5,456.5L1677.0,458.1L1677.5,459.7L1678.0,461.1L1678.5,462.0L1679.0,460.6L1679.5,458.6L1680.0,457.0L1680.5,456.7L1681.0,456.5L1681.5,456.3L1682.0,456.1L1682.5,455.9L1683.0,455.7L1683.1,455.6L1683.5,454.4L1684.0,452.4L1684.5,450.1L1685.0,447.5L1685.5,443.1L1686.0,438.0L1686.5,432.7L1686.9,428.8L1687.0,427.9L1687.5,423.3L1688.0,419.4L1688.1,418.8L1688.5,417.7L1689.0,416.8L1689.5,415.9L1690.0,415.0L1690.5,414.0L1690.6,413.8L1691.0,412.0L1691.5,409.3L1692.0,406.5L1692.5,403.8L1693.0,401.1L1693.5,398.4L1694.0,396.2L1694.5,395.4L1695.0,394.6L1695.5,393.9L1696.0,393.3L1696.5,392.7L1697.0,392.0L1697.5,391.2L1698.0,390.1L1698.5,389.0L1699.0,387.7L1699.5,386.4L1700.0,385.0L1700.5,383.2L1701.0,381.2L1701.5,379.1L1702.0,376.9L1702.5,374.9L1703.0,372.9L1703.1,372.5L1703.5,371.2L1704.0,369.5L1704.5,367.9L1705.0,366.3L1705.5,364.7L1706.0,363.2L1706.2,362.5L1706.5,361.9L1707.0,360.7L1707.5,359.5L1708.0,358.4L1708.5,357.2L1709.0,356.1L1709.5,355.0L1710.0,353.8L1710.5,352.3L1711.0,350.9L1711.5,349.3L1712.0,347.8L1712.5,346.3L1713.0,344.9L1713.5,343.6L1713.8,343.0L1714.0,342.6L1714.5,341.9L1715.0,341.3L1715.5,340.7L1716.0,339.9L1716.2,339.5L1716.5,338.7L1717.0,337.0L1717.5,335.0L1718.0,332.9L1718.1,332.5L1718.5,330.1L1719.0,326.8L1719.5,323.3L1720.0,319.9L1720.3,318.0L1720.5,316.9L1721.0,314.4L1721.5,311.9L1722.0,309.4L1722.5,307.0L1723.0,304.6L1723.5,302.2L1724.0,299.9L1724.4,298.0L1724.5,297.5L1725.0,295.2L1725.5,292.8L1726.0,290.4L1726.3,289.0L1726.5,288.1L1727.0,285.7L1727.5,283.3L1728.0,280.9L1728.2,280.0L1728.5,278.6L1729.0,276.2L1729.5,273.8L1730.0,271.4L1730.3,270.0L1730.5,269.0L1731.0,266.7L1731.5,264.3L1732.0,261.9L1732.4,260.0L1732.5,259.5L1733.0,257.1L1733.5,254.8L1734.0,252.4L1734.5,250.0L1735.0,247.6L1735.5,245.2L1736.0,242.8L1736.5,240.5L1736.6,240.0L1737.0,238.2L1737.5,235.9L1738.0,233.7L1738.5,231.4L1738.8,230.0L1739.0,228.9L1739.5,226.3L1740.0,223.5L1740.5,220.7L1741.0,217.9L1741.5,215.0L1742.0,211.9L1742.5,208.6L1743.0,205.4L1743.5,202.1L1744.0,198.9L1744.5,195.8L1744.9,193.5L1745.0,193.0L1745.5,190.7L1746.0,188.5L1746.5,186.4L1747.0,184.5L1747.2,183.8L1747.5,183.0L1748.0,181.8L1748.5,180.6L1749.0,179.5L1749.5,178.5L1750.0,177.5L1750.5,176.5L1751.0,175.8L1751.5,175.1L1752.0,174.4L1752.5,173.8L1753.0,173.1L1753.5,172.4L1753.6,172.3L1754.0,171.6L1754.5,170.6L1755.0,169.6L1755.5,168.6L1756.0,167.6L1756.5,166.6L1757.0,165.7L1757.5,164.9L1757.8,164.5L1758.0,164.3L1758.5,163.8L1759.0,163.4L1759.5,163.0L1759.8,162.8L1760.0,162.6L1760.5,162.2L1761.0,161.8L1761.5,161.4L1761.9,161.0L1762.0,161.0L1762.5,160.6L1763.0,160.2L1763.5,159.8L1764.0,159.3L1764.5,158.3L1765.0,157.2L1765.5,156.0L1766.0,154.8L1766.1,154.6L1766.5,153.9L1767.0,153.0L1767.5,152.2L1768.0,151.4L1768.2,151.1L1768.5,150.5L1769.0,149.7L1769.5,148.8L1770.0,148.0L1770.3,147.5L1770.5,147.1L1771.0,146.3L1771.5,145.4L1772.0,144.6L1772.3,144.0L1772.5,143.7L1773.0,142.9L1773.5,142.0L1774.0,141.2L1774.4,140.4L1774.5,140.3L1775.0,139.4L1775.5,138.5L1776.0,137.7L1776.5,136.9L1777.0,136.3L1777.5,135.8L1778.0,135.3L1778.5,134.8L1779.0,134.3L1779.5,133.8L1779.6,133.8L1780.0,133.4L1780.5,133.1L1781.0,132.7L1781.5,132.4L1781.9,132.1L1782.0,132.1L1782.5,131.7L1783.0,131.3L1783.5,131.0L1784.0,130.6L1784.2,130.5L1784.5,130.3L1785.0,129.9L1785.5,129.6L1786.0,129.2L1786.5,128.9L1786.6,128.8L1787.0,128.5L1787.5,128.2L1788.0,127.8L1788.5,127.5L1788.9,127.2L1789.0,127.1L1789.5,126.8L1790.0,126.4L1790.5,126.0L1791.0,125.7L1791.2,125.5L1791.5,125.3L1792.0,125.0L1792.5,124.6L1793.0,124.3L1793.5,123.9L1793.5,123.9L1794.0,123.6L1794.5,123.2L1795.0,122.9L1795.5,122.5L1795.9,122.3L1796.0,122.2L1796.5,121.8L1797.0,121.4L1797.5,121.1L1798.0,120.7L1798.2,120.6L1798.5,120.4L1799.0,120.0L1799.5,119.7L1800.0,119.3L1800.5,119.0L1800.5,119.0L1801.0,118.6L1801.5,118.3L1802.0,117.9L1802.5,117.6L1802.8,117.3L1803.0,117.2L1803.5,116.9L1804.0,116.5L1804.5,116.1L1805.0,115.8L1805.2,115.7L1805.5,115.4L1806.0,115.1L1806.5,114.7L1807.0,114.4L1807.5,114.0L1807.5,114.0L1808.0,113.7L1808.5,113.3L1809.0,113.0L1809.5,112.6L1809.8,112.4L1810.0,112.3L1810.5,111.9L1811.0,111.6L1811.5,111.2L1812.0,110.8L1812.1,110.8L1812.5,110.5L1813.0,110.1L1813.5,109.8L1814.0,109.4L1814.4,109.2L1814.5,109.1L1815.0,108.7L1815.5,108.4L1816.0,108.0L1816.5,107.7L1816.7,107.6L1817.0,107.3L1817.5,106.9L1818.0,106.6L1818.5,106.2L1818.9,105.9L1819.0,105.9L1819.5,105.5L1820.0,105.2L1820.5,104.8L1821.0,104.5L1821.2,104.3L1821.5,104.1L1822.0,103.8L1822.5,103.4L1823.0,103.1L1823.5,102.7" stroke="#000"/>
</g>
<g stroke="#000" fill="none">
<line x1="432.50" y1="1178.5" x2="432.50" y2="1193.40" stroke-width="3"/>
<line x1="679.50" y1="1178.5" x2="679.50" y2="1193.40" stroke-width="3"/>
<line x1="925.50" y1="1178.5" x2="925.50" y2="1193.40" stroke-width="3"/>
<line x1="1172.50" y1="1178.5" x2="1172.50" y2="1193.40" stroke-width="3"/>
<line x1="1418.50" y1="1178.5" x2="1418.50" y2="1193.40" stroke-width="3"/>
<line x1="1665.50" y1="1178.5" x2="1665.50" y2="1193.40" stroke-width="3"/>
<line x1="311.17" y1="166.50" x2="319.5" y2="166.50" stroke-width="2.5"/>
<line x1="311.17" y1="279.50" x2="319.5" y2="279.50" stroke-width="2.5"/>
<line x1="311.17" y1="396.50" x2="319.5" y2="396.50" stroke-width="2.5"/>
<line x1="311.17" y1="519.50" x2="319.5" y2="519.50" stroke-width="2.5"/>
<line x1="311.17" y1="649.50" x2="319.5" y2="649.50" stroke-width="2.5"/>
<line x1="311.17" y1="785.50" x2="319.5" y2="785.50" stroke-width="2.5"/>
<line x1="311.17" y1="929.50" x2="319.5" y2="929.50" stroke-width="2.5"/>
<line x1="311.17" y1="1082.50" x2="319.5" y2="1082.50" stroke-width="2.5"/>
</g>
<rect x="319.5" y="112.5" width="1556.00" height="1066.00" fill="none" stroke="#000" stroke-width="3" stroke-linejoin="miter"/>
<line x1="319.9" y1="482.8" x2="319.9" y2="498.3" stroke="#f00" stroke-width="2.08"/>
<rect x="340.3" y="133.1" width="320.7" height="137.8" rx="8.3" ry="8.3" fill="#fff" fill-opacity="0.8" stroke="#ccc" stroke-opacity="0.8" stroke-width="4.17"/>
<line x1="355.9" y1="167.8" x2="441" y2="167.8" stroke="#f00" stroke-width="2.08"/>
<line x1="355.9" y1="231" x2="441" y2="231" stroke="#000" stroke-width="2.08"/>
<g stroke="#000" stroke-width="3.1" fill="none">
<path d="M190.00,159.30 L210.80,179.90 M190.00,179.90 L210.80,159.30"/>
<path d="M190.00,272.30 L210.80,292.90 M190.00,292.90 L210.80,272.30"/>
<path d="M190.00,389.30 L210.80,409.90 M190.00,409.90 L210.80,389.30"/>
<path d="M189.20,512.30 L210.00,532.90 M189.20,532.90 L210.00,512.30"/>
<path d="M190.00,642.30 L210.80,662.90 M190.00,662.90 L210.80,642.30"/>
<path d="M190.00,778.30 L210.80,798.90 M190.00,798.90 L210.80,778.30"/>
<path d="M190.00,922.30 L210.80,942.90 M190.00,942.90 L210.80,922.30"/>
<path d="M190.00,1075.30 L210.80,1095.90 M190.00,1095.90 L210.80,1075.30"/>
</g>
<rect x="1086.7" y="95.0" width="26.200000000000045" height="3.8" fill="#000"/>
<rect x="1366.2" y="95.0" width="26.200000000000045" height="3.8" fill="#000"/>
<rect x="1581.6" y="95.0" width="26.300000000000182" height="3.8" fill="#000"/>
<g filter="url(#gs)" stroke="#000" stroke-width="0.5" stroke-linejoin="round" vector-effect="non-scaling-stroke">
<text transform="translate(396.48,86.80) scale(0.5150,0.5232)">Peak</text>
<text transform="translate(530.37,86.80) scale(0.5883,0.5232)">field</text>
<text transform="translate(654.59,86.80) scale(0.5550,0.5232)">sums</text>
<text transform="translate(802.86,86.80) scale(0.5947,0.5232)">for</text>
<text transform="translate(887.31,86.80) scale(0.5260,0.5232)">UK00C3</text>
<text transform="translate(1113.33,86.80) scale(0.5849,0.5232)">20251115</text>
<text transform="translate(1394.00,86.80) scale(0.5624,0.5232)">034527</text>
<text transform="translate(1607.16,86.80) scale(0.5680,0.5232)">281657</text>
<text transform="translate(1045.63,1387.10) scale(0.4676,0.4493)">Time</text>
<text transform="translate(473.79,183.40) scale(0.4264,0.4493)">Peak</text>
<text transform="translate(474.17,245.25) scale(0.4591,0.4493)">Average</text>
<text transform="translate(82.10,691.40) rotate(-90) translate(-0.21,0.00) scale(0.4236,0.4522)">ADU</text>
<text transform="translate(361.25,1325.80) rotate(-30) translate(-3.35,0.00) scale(0.4472,0.4435)">15</text>
<text transform="translate(361.25,1325.80) rotate(-30) translate(62.55,0.00) scale(0.4724,0.4435)">04:00</text>
<text transform="translate(607.20,1326.90) rotate(-30) translate(-3.35,0.00) scale(0.4472,0.4435)">15</text>
<text transform="translate(607.20,1326.90) rotate(-30) translate(62.55,0.00) scale(0.4724,0.4435)">04:30</text>
<text transform="translate(853.70,1326.90) rotate(-30) translate(-3.35,0.00) scale(0.4472,0.4435)">15</text>
<text transform="translate(853.70,1326.90) rotate(-30) translate(62.55,0.00) scale(0.4724,0.4435)">05:00</text>
<text transform="translate(1100.20,1326.90) rotate(-30) translate(-3.35,0.00) scale(0.4472,0.4435)">15</text>
<text transform="translate(1100.20,1326.90) rotate(-30) translate(62.55,0.00) scale(0.4724,0.4435)">05:30</text>
<text transform="translate(1346.70,1326.90) rotate(-30) translate(-3.35,0.00) scale(0.4472,0.4435)">15</text>
<text transform="translate(1346.70,1326.90) rotate(-30) translate(62.55,0.00) scale(0.4724,0.4435)">06:00</text>
<text transform="translate(1593.20,1326.90) rotate(-30) translate(-3.35,0.00) scale(0.4472,0.4435)">15</text>
<text transform="translate(1593.20,1326.90) rotate(-30) translate(62.55,0.00) scale(0.4724,0.4435)">06:30</text>
<text transform="translate(109.13,182.40) scale(0.4639,0.4435)">2.3</text>
<text transform="translate(227.28,182.40) scale(0.4430,0.4435)">10</text>
<text transform="translate(279.33,167.00) scale(0.3277,0.3000)">8</text>
<text transform="translate(109.16,295.40) scale(0.4577,0.4435)">2.2</text>
<text transform="translate(227.28,295.40) scale(0.4430,0.4435)">10</text>
<text transform="translate(279.33,280.00) scale(0.3277,0.3000)">8</text>
<text transform="translate(109.15,412.40) scale(0.4602,0.4435)">2.1</text>
<text transform="translate(227.28,412.40) scale(0.4430,0.4435)">10</text>
<text transform="translate(279.33,397.00) scale(0.3277,0.3000)">8</text>
<text transform="translate(148.48,535.40) scale(0.4239,0.4435)">2</text>
<text transform="translate(226.48,535.40) scale(0.4430,0.4435)">10</text>
<text transform="translate(278.53,520.00) scale(0.3277,0.3000)">8</text>
<text transform="translate(109.49,665.40) scale(0.4654,0.4435)">1.9</text>
<text transform="translate(227.28,665.40) scale(0.4430,0.4435)">10</text>
<text transform="translate(279.33,650.00) scale(0.3277,0.3000)">8</text>
<text transform="translate(109.50,801.40) scale(0.4633,0.4435)">1.8</text>
<text transform="translate(227.28,801.40) scale(0.4430,0.4435)">10</text>
<text transform="translate(279.33,786.00) scale(0.3277,0.3000)">8</text>
<text transform="translate(109.51,945.40) scale(0.4622,0.4435)">1.7</text>
<text transform="translate(227.28,945.40) scale(0.4430,0.4435)">10</text>
<text transform="translate(279.33,930.00) scale(0.3277,0.3000)">8</text>
<text transform="translate(109.49,1098.40) scale(0.4651,0.4435)">1.6</text>
<text transform="translate(227.28,1098.40) scale(0.4430,0.4435)">10</text>
<text transform="translate(279.33,1083.00) scale(0.3277,0.3000)">8</text>
</g>
</svg></body></html>
